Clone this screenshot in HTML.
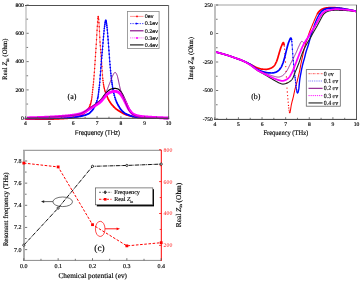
<!DOCTYPE html>
<html><head><meta charset="utf-8"><style>
html,body{margin:0;padding:0;background:#fff;}
body{width:361px;height:282px;overflow:hidden;position:relative;font-family:"Liberation Serif",serif;}
text{stroke:#000;stroke-width:0.15px;}
</style></head><body>
<svg width="361" height="282" viewBox="0 0 361 282" text-rendering="geometricPrecision" style="position:absolute;left:0;top:0;filter:brightness(1)">
<rect width="361" height="282" fill="#fff"/>
<path d="M25.5 118.9L25.7 118.91L25.9 118.91L26.1 118.92L26.3 118.92L26.5 118.93L26.7 118.93L26.9 118.94L27.1 118.95L27.3 118.95L27.5 118.96L27.7 118.96L27.9 118.97L28.1 118.97L28.3 118.97L28.5 118.98L28.7 118.98L28.9 118.99L29.1 118.99L29.3 119L29.5 119L29.7 119L29.9 119.01L30.1 119.01L30.3 119.01L30.5 119.02L30.7 119.02L30.9 119.02L31.1 119.03L31.3 119.03L31.5 119.03L31.7 119.04L31.9 119.04L32.1 119.04L32.3 119.04L32.5 119.05L32.7 119.05L32.9 119.05L33.1 119.05L33.3 119.06L33.5 119.06L33.7 119.06L33.9 119.06L34.1 119.07L34.3 119.07L34.5 119.07L34.7 119.07L34.9 119.07L35.1 119.07L35.3 119.08L35.5 119.08L35.7 119.08L35.9 119.08L36.1 119.08L36.3 119.08L36.5 119.08L36.7 119.08L36.9 119.09L37.1 119.09L37.3 119.09L37.5 119.09L37.7 119.09L37.9 119.09L38.1 119.09L38.3 119.09L38.5 119.09L38.7 119.09L38.9 119.09L39.1 119.09L39.3 119.1L39.5 119.1L39.7 119.1L39.9 119.1L40.1 119.1L40.3 119.1L40.5 119.1L40.7 119.1L40.9 119.1L41.1 119.1L41.3 119.1L41.5 119.1L41.7 119.1L41.9 119.1L42.1 119.1L42.3 119.1L42.5 119.1L42.7 119.1L42.9 119.1L43.1 119.1L43.3 119.1L43.5 119.1L43.7 119.1L43.9 119.1L44.1 119.1L44.3 119.1L44.5 119.1L44.7 119.1L44.9 119.1L45.1 119.1L45.3 119.1L45.5 119.1L45.7 119.1L45.9 119.1L46.1 119.1L46.3 119.1L46.5 119.09L46.7 119.09L46.9 119.09L47.1 119.09L47.3 119.09L47.5 119.09L47.7 119.08L47.9 119.08L48.1 119.08L48.3 119.07L48.5 119.07L48.7 119.07L48.9 119.06L49.1 119.06L49.3 119.06L49.5 119.05L49.7 119.05L49.9 119.04L50.1 119.04L50.3 119.04L50.5 119.03L50.7 119.03L50.9 119.02L51.1 119.02L51.3 119.01L51.5 119L51.7 119L51.9 118.99L52.1 118.99L52.3 118.98L52.5 118.97L52.7 118.97L52.9 118.96L53.1 118.95L53.3 118.95L53.5 118.94L53.7 118.93L53.9 118.93L54.1 118.92L54.3 118.91L54.5 118.9L54.7 118.9L54.9 118.89L55.1 118.88L55.3 118.87L55.5 118.86L55.7 118.86L55.9 118.85L56.1 118.84L56.3 118.83L56.5 118.82L56.7 118.81L56.9 118.8L57.1 118.79L57.3 118.78L57.5 118.78L57.7 118.77L57.9 118.76L58.1 118.75L58.3 118.74L58.5 118.73L58.7 118.72L58.9 118.71L59.1 118.7L59.3 118.69L59.5 118.68L59.7 118.67L59.9 118.66L60.1 118.64L60.3 118.63L60.5 118.62L60.7 118.61L60.9 118.6L61.1 118.59L61.3 118.58L61.5 118.57L61.7 118.56L61.9 118.55L62.1 118.53L62.3 118.52L62.5 118.51L62.7 118.5L62.9 118.49L63.1 118.48L63.3 118.46L63.5 118.45L63.7 118.44L63.9 118.43L64.1 118.42L64.3 118.4L64.5 118.39L64.7 118.38L64.9 118.37L65.1 118.36L65.3 118.34L65.5 118.33L65.7 118.32L65.9 118.31L66.1 118.29L66.3 118.28L66.5 118.27L66.7 118.25L66.9 118.24L67.1 118.22L67.3 118.21L67.5 118.19L67.7 118.18L67.9 118.16L68.1 118.14L68.3 118.12L68.5 118.11L68.7 118.09L68.9 118.07L69.1 118.05L69.3 118.03L69.5 118.01L69.7 117.98L69.9 117.96L70.1 117.94L70.3 117.92L70.5 117.89L70.7 117.87L70.9 117.84L71.1 117.82L71.3 117.79L71.5 117.77L71.7 117.74L71.9 117.71L72.1 117.68L72.3 117.65L72.5 117.62L72.7 117.59L72.9 117.56L73.1 117.53L73.3 117.5L73.5 117.47L73.7 117.43L73.9 117.4L74.1 117.36L74.3 117.33L74.5 117.29L74.7 117.26L74.9 117.22L75.1 117.18L75.3 117.14L75.5 117.1L75.7 117.05L75.9 117L76.1 116.95L76.3 116.89L76.5 116.84L76.7 116.78L76.9 116.72L77.1 116.65L77.3 116.59L77.5 116.52L77.7 116.45L77.9 116.37L78.1 116.3L78.3 116.22L78.5 116.14L78.7 116.06L78.9 115.98L79.1 115.89L79.3 115.81L79.5 115.72L79.7 115.63L79.9 115.54L80.1 115.45L80.3 115.35L80.5 115.26L80.7 115.16L80.9 115.06L81.1 114.96L81.3 114.86L81.5 114.76L81.7 114.66L81.9 114.55L82.1 114.45L82.3 114.34L82.5 114.22L82.7 114.1L82.9 113.98L83.1 113.85L83.3 113.71L83.5 113.57L83.7 113.43L83.9 113.28L84.1 113.13L84.3 112.97L84.5 112.81L84.7 112.65L84.9 112.48L85.1 112.31L85.3 112.13L85.5 111.96L85.7 111.78L85.9 111.59L86.1 111.41L86.3 111.22L86.5 111.02L86.7 110.83L86.9 110.62L87.1 110.41L87.3 110.19L87.5 109.96L87.7 109.72L87.9 109.46L88.1 109.2L88.3 108.91L88.5 108.62L88.7 108.3L88.9 107.96L89.1 107.58L89.3 107.16L89.5 106.71L89.7 106.23L89.9 105.72L90.1 105.17L90.3 104.6L90.5 104L90.7 103.36L90.9 102.66L91.1 101.88L91.3 101L91.5 100L91.7 98.77L91.9 97.26L92.1 95.56L92.3 93.73L92.5 91.85L92.7 90L92.9 88.17L93.1 86.3L93.3 84.37L93.5 82.36L93.7 80.25L93.9 78L94.1 75.57L94.3 72.96L94.5 70.19L94.7 67.33L94.9 64.4L95.1 61.46L95.3 58.54L95.5 55.58L95.7 52.57L95.9 49.51L96.1 46.4L96.3 43.23L96.5 40L96.7 36.53L96.9 32.9L97.1 29.5L97.3 26.53L97.5 23.41L97.7 20.39L97.9 17.94L98.1 16.5L98.3 16.45L98.5 17.58L98.7 19.58L98.9 22.16L99.1 25.06L99.3 28L99.5 31.65L99.7 36.06L99.9 40L100.1 43.13L100.3 45.98L100.5 48.63L100.7 51.18L100.9 53.71L101.1 56.28L101.3 58.75L101.5 61.18L101.7 63.69L101.9 66.41L102.1 69.52L102.3 72.72L102.5 75.66L102.7 78L102.9 79.81L103.1 81.44L103.3 82.91L103.5 84.23L103.7 85.41L103.9 86.49L104.1 87.48L104.3 88.39L104.5 89.23L104.7 90L104.9 90.71L105.1 91.38L105.3 92L105.5 92.58L105.7 93.12L105.9 93.63L106.1 94.11L106.3 94.58L106.5 95.04L106.7 95.5L106.9 95.97L107.1 96.44L107.3 96.91L107.5 97.37L107.7 97.83L107.9 98.29L108.1 98.73L108.3 99.15L108.5 99.56L108.7 99.95L108.9 100.32L109.1 100.67L109.3 101.01L109.5 101.34L109.7 101.66L109.9 101.96L110.1 102.27L110.3 102.56L110.5 102.84L110.7 103.12L110.9 103.39L111.1 103.66L111.3 103.92L111.5 104.17L111.7 104.42L111.9 104.66L112.1 104.9L112.3 105.13L112.5 105.37L112.7 105.59L112.9 105.82L113.1 106.04L113.3 106.25L113.5 106.47L113.7 106.68L113.9 106.88L114.1 107.08L114.3 107.28L114.5 107.48L114.7 107.67L114.9 107.85L115.1 108.03L115.3 108.21L115.5 108.39L115.7 108.55L115.9 108.72L116.1 108.88L116.3 109.04L116.5 109.19L116.7 109.34L116.9 109.49L117.1 109.63L117.3 109.77L117.5 109.91L117.7 110.05L117.9 110.18L118.1 110.32L118.3 110.45L118.5 110.57L118.7 110.7L118.9 110.82L119.1 110.95L119.3 111.07L119.5 111.19L119.7 111.31L119.9 111.42L120.1 111.54L120.3 111.66L120.5 111.78L120.7 111.89L120.9 112.01L121.1 112.13L121.3 112.25L121.5 112.37L121.7 112.49L121.9 112.6L122.1 112.72L122.3 112.84L122.5 112.95L122.7 113.07L122.9 113.18L123.1 113.3L123.3 113.41L123.5 113.52L123.7 113.62L123.9 113.73L124.1 113.83L124.3 113.94L124.5 114.04L124.7 114.13L124.9 114.23L125.1 114.32L125.3 114.41L125.5 114.5L125.7 114.58L125.9 114.66L126.1 114.73L126.3 114.81L126.5 114.88L126.7 114.94L126.9 115L127.1 115.06L127.3 115.12L127.5 115.17L127.7 115.23L127.9 115.29L128.1 115.34L128.3 115.4L128.5 115.45L128.7 115.51L128.9 115.56L129.1 115.62L129.3 115.67L129.5 115.72L129.7 115.78L129.9 115.83L130.1 115.88L130.3 115.93L130.5 115.98L130.7 116.03L130.9 116.08L131.1 116.13L131.3 116.18L131.5 116.22L131.7 116.27L131.9 116.32L132.1 116.36L132.3 116.41L132.5 116.45L132.7 116.49L132.9 116.54L133.1 116.58L133.3 116.62L133.5 116.66L133.7 116.7L133.9 116.74L134.1 116.78L134.3 116.81L134.5 116.85L134.7 116.89L134.9 116.92L135.1 116.95L135.3 116.99L135.5 117.02L135.7 117.05L135.9 117.08L136.1 117.11L136.3 117.14L136.5 117.17L136.7 117.2L136.9 117.22L137.1 117.25L137.3 117.27L137.5 117.3L137.7 117.32L137.9 117.34L138.1 117.36L138.3 117.38L138.5 117.4L138.7 117.41L138.9 117.43L139.1 117.45L139.3 117.46L139.5 117.47L139.7 117.48L139.9 117.5L140.1 117.5L140.3 117.51L140.5 117.52L140.7 117.53L140.9 117.54L141.1 117.55L141.3 117.56L141.5 117.57L141.7 117.58L141.9 117.59L142.1 117.6L142.3 117.61L142.5 117.62L142.7 117.62L142.9 117.63L143.1 117.64L143.3 117.65L143.5 117.66L143.7 117.67L143.9 117.68L144.1 117.68L144.3 117.69L144.5 117.7L144.7 117.71L144.9 117.72L145.1 117.72L145.3 117.73L145.5 117.74L145.7 117.75L145.9 117.76L146.1 117.76L146.3 117.77L146.5 117.78L146.7 117.79L146.9 117.79L147.1 117.8L147.3 117.81L147.5 117.82L147.7 117.82L147.9 117.83L148.1 117.84L148.3 117.84L148.5 117.85L148.7 117.86L148.9 117.86L149.1 117.87L149.3 117.88L149.5 117.88L149.7 117.89L149.9 117.9L150.1 117.9L150.3 117.91L150.5 117.92L150.7 117.92L150.9 117.93L151.1 117.93L151.3 117.94L151.5 117.95L151.7 117.95L151.9 117.96L152.1 117.96L152.3 117.97L152.5 117.97L152.7 117.98L152.9 117.99L153.1 117.99L153.3 118L153.5 118L153.7 118.01L153.9 118.01L154.1 118.02L154.3 118.02L154.5 118.03L154.7 118.03L154.9 118.04L155.1 118.04L155.3 118.05L155.5 118.05L155.7 118.05L155.9 118.06L156.1 118.06L156.3 118.07L156.5 118.07L156.7 118.08L156.9 118.08L157.1 118.08L157.3 118.09L157.5 118.09L157.7 118.1L157.9 118.1L158.1 118.1L158.3 118.11L158.5 118.11L158.7 118.11L158.9 118.12L159.1 118.12L159.3 118.12L159.5 118.13L159.7 118.13L159.9 118.13L160.1 118.14L160.3 118.14L160.5 118.14L160.7 118.15L160.9 118.15L161.1 118.15L161.3 118.15L161.5 118.16L161.7 118.16L161.9 118.16L162.1 118.16L162.3 118.16L162.5 118.17L162.7 118.17L162.9 118.17L163.1 118.17L163.3 118.18L163.5 118.18L163.7 118.18L163.9 118.18L164.1 118.18L164.3 118.18L164.5 118.19L164.7 118.19L164.9 118.19L165.1 118.19L165.3 118.19L165.5 118.19L165.7 118.19L165.9 118.19L166.1 118.19L166.3 118.2L166.5 118.2L166.7 118.2L166.9 118.2L167.1 118.2L167.3 118.2L167.5 118.2L167.7 118.2L167.9 118.2L168.1 118.2L168.3 118.2L168.5 118.2" fill="none" stroke="#ff6060" stroke-width="0.8"/>
<path d="M90.57 103.78h0M90.84 102.88h0M91.11 101.84h0M91.38 100.62h0M91.65 99.11h0M91.92 97.1h0M92.19 94.75h0M92.46 92.23h0M92.73 89.73h0M93 87.24h0M93.27 84.67h0M93.54 81.95h0M93.81 79.03h0M94.08 75.83h0M94.35 72.28h0M94.62 68.48h0M94.89 64.55h0M95.16 60.58h0M95.43 56.62h0M95.7 52.57h0M95.97 48.43h0M96.24 44.19h0M96.51 39.84h0M96.78 35.08h0M97.05 30.31h0M97.32 26.23h0M97.59 22.01h0M97.86 18.36h0M98.13 16.4h0M98.4 16.89h0M98.67 19.24h0M98.94 22.73h0M99.21 26.69h0M99.48 31.23h0M99.75 37.13h0M100.02 41.92h0M100.29 45.84h0M100.56 49.4h0M100.83 52.82h0M101.1 56.28h0M101.37 59.6h0M101.64 62.92h0M101.91 66.56h0M102.18 70.81h0M102.45 74.97h0M102.72 78.19h0M102.99 80.57h0M103.26 82.63h0M103.53 84.41h0M103.8 85.97h0M104.07 87.34h0M104.34 88.56h0M104.61 89.66h0M104.88 90.64h0M105.15 91.53h0M105.42 92.36h0M105.69 93.1h0M105.96 93.78h0" fill="none" stroke="#ff0000" stroke-width="1.5" stroke-linecap="round"/>
<path d="M25.5 118.9h0M26.1 118.92h0M26.7 118.93h0M27.3 118.95h0M27.9 118.97h0M28.5 118.98h0M29.1 118.99h0M29.7 119h0M30.3 119.01h0M30.9 119.02h0M31.5 119.03h0M32.1 119.04h0M32.7 119.05h0M33.3 119.06h0M33.9 119.06h0M34.5 119.07h0M35.1 119.07h0M35.7 119.08h0M36.3 119.08h0M36.9 119.09h0M37.5 119.09h0M38.1 119.09h0M38.7 119.09h0M39.3 119.1h0M39.9 119.1h0M40.5 119.1h0M41.1 119.1h0M41.7 119.1h0M42.3 119.1h0M42.9 119.1h0M43.5 119.1h0M44.1 119.1h0M44.7 119.1h0M45.3 119.1h0M45.9 119.1h0M46.5 119.09h0M47.1 119.09h0M47.7 119.08h0M48.3 119.07h0M48.9 119.06h0M49.5 119.05h0M50.1 119.04h0M50.7 119.03h0M51.3 119.01h0M51.9 118.99h0M52.5 118.97h0M53.1 118.95h0M53.7 118.93h0M54.3 118.91h0M54.9 118.89h0M55.5 118.86h0M56.1 118.84h0M56.7 118.81h0M57.3 118.78h0M57.9 118.76h0M58.5 118.73h0M59.1 118.7h0M59.7 118.67h0M60.3 118.63h0M60.9 118.6h0M61.5 118.57h0M62.1 118.53h0M62.7 118.5h0M63.3 118.46h0M63.9 118.43h0M64.5 118.39h0M65.1 118.36h0M65.7 118.32h0M66.3 118.28h0M66.9 118.24h0M67.5 118.19h0M68.1 118.14h0M68.7 118.09h0M69.3 118.03h0M69.9 117.96h0M70.5 117.89h0M71.1 117.82h0M71.7 117.74h0M72.3 117.65h0M72.9 117.56h0M73.5 117.47h0M74.1 117.36h0M74.7 117.26h0M75.3 117.14h0M75.9 117h0M76.5 116.84h0M77.1 116.65h0M77.7 116.45h0M78.3 116.22h0M78.9 115.98h0M79.5 115.72h0M80.1 115.45h0M80.7 115.16h0M81.3 114.86h0M81.9 114.55h0M82.5 114.22h0M83.1 113.85h0M83.7 113.43h0M84.3 112.97h0M84.9 112.48h0M85.5 111.96h0M86.1 111.41h0M86.7 110.83h0M87.3 110.19h0M87.9 109.46h0M88.5 108.62h0M89.1 107.58h0M89.7 106.23h0M90.3 104.6h0M106.5 95.04h0M107.1 96.44h0M107.7 97.83h0M108.3 99.15h0M108.9 100.32h0M109.5 101.34h0M110.1 102.27h0M110.7 103.12h0M111.3 103.92h0M111.9 104.66h0M112.5 105.37h0M113.1 106.04h0M113.7 106.68h0M114.3 107.28h0M114.9 107.85h0M115.5 108.39h0M116.1 108.88h0M116.7 109.34h0M117.3 109.77h0M117.9 110.18h0M118.5 110.57h0M119.1 110.95h0M119.7 111.31h0M120.3 111.66h0M120.9 112.01h0M121.5 112.37h0M122.1 112.72h0M122.7 113.07h0M123.3 113.41h0M123.9 113.73h0M124.5 114.04h0M125.1 114.32h0M125.7 114.58h0M126.3 114.81h0M126.9 115h0M127.5 115.17h0M128.1 115.34h0M128.7 115.51h0M129.3 115.67h0M129.9 115.83h0M130.5 115.98h0M131.1 116.13h0M131.7 116.27h0M132.3 116.41h0M132.9 116.54h0M133.5 116.66h0M134.1 116.78h0M134.7 116.89h0M135.3 116.99h0M135.9 117.08h0M136.5 117.17h0M137.1 117.25h0M137.7 117.32h0M138.3 117.38h0M138.9 117.43h0M139.5 117.47h0M140.1 117.5h0M140.7 117.53h0M141.3 117.56h0M141.9 117.59h0M142.5 117.62h0M143.1 117.64h0M143.7 117.67h0M144.3 117.69h0M144.9 117.72h0M145.5 117.74h0M146.1 117.76h0M146.7 117.79h0M147.3 117.81h0M147.9 117.83h0M148.5 117.85h0M149.1 117.87h0M149.7 117.89h0M150.3 117.91h0M150.9 117.93h0M151.5 117.95h0M152.1 117.96h0M152.7 117.98h0M153.3 118h0M153.9 118.01h0M154.5 118.03h0M155.1 118.04h0M155.7 118.05h0M156.3 118.07h0M156.9 118.08h0M157.5 118.09h0M158.1 118.1h0M158.7 118.11h0M159.3 118.12h0M159.9 118.13h0M160.5 118.14h0M161.1 118.15h0M161.7 118.16h0M162.3 118.16h0M162.9 118.17h0M163.5 118.18h0M164.1 118.18h0M164.7 118.19h0M165.3 118.19h0M165.9 118.19h0M166.5 118.2h0M167.1 118.2h0M167.7 118.2h0M168.3 118.2h0" fill="none" stroke="#ff0000" stroke-width="1.9" stroke-linecap="round"/>
<path d="M25.5 118.2L25.7 118.2L25.9 118.2L26.1 118.2L26.3 118.2L26.5 118.2L26.7 118.2L26.9 118.2L27.1 118.2L27.3 118.2L27.5 118.2L27.7 118.2L27.9 118.2L28.1 118.2L28.3 118.2L28.5 118.2L28.7 118.2L28.9 118.2L29.1 118.2L29.3 118.2L29.5 118.2L29.7 118.2L29.9 118.2L30.1 118.2L30.3 118.2L30.5 118.2L30.7 118.2L30.9 118.2L31.1 118.2L31.3 118.2L31.5 118.2L31.7 118.2L31.9 118.2L32.1 118.2L32.3 118.2L32.5 118.2L32.7 118.2L32.9 118.2L33.1 118.2L33.3 118.2L33.5 118.2L33.7 118.2L33.9 118.2L34.1 118.2L34.3 118.2L34.5 118.2L34.7 118.2L34.9 118.2L35.1 118.2L35.3 118.2L35.5 118.2L35.7 118.2L35.9 118.2L36.1 118.2L36.3 118.2L36.5 118.2L36.7 118.2L36.9 118.2L37.1 118.2L37.3 118.2L37.5 118.2L37.7 118.2L37.9 118.2L38.1 118.2L38.3 118.2L38.5 118.2L38.7 118.2L38.9 118.2L39.1 118.2L39.3 118.2L39.5 118.2L39.7 118.2L39.9 118.2L40.1 118.2L40.3 118.2L40.5 118.2L40.7 118.2L40.9 118.2L41.1 118.2L41.3 118.2L41.5 118.2L41.7 118.2L41.9 118.2L42.1 118.2L42.3 118.2L42.5 118.2L42.7 118.2L42.9 118.2L43.1 118.2L43.3 118.2L43.5 118.2L43.7 118.2L43.9 118.2L44.1 118.2L44.3 118.2L44.5 118.2L44.7 118.2L44.9 118.2L45.1 118.2L45.3 118.2L45.5 118.2L45.7 118.2L45.9 118.2L46.1 118.2L46.3 118.2L46.5 118.2L46.7 118.2L46.9 118.2L47.1 118.2L47.3 118.2L47.5 118.2L47.7 118.2L47.9 118.2L48.1 118.2L48.3 118.2L48.5 118.2L48.7 118.2L48.9 118.2L49.1 118.2L49.3 118.2L49.5 118.2L49.7 118.2L49.9 118.2L50.1 118.2L50.3 118.2L50.5 118.2L50.7 118.2L50.9 118.2L51.1 118.2L51.3 118.2L51.5 118.19L51.7 118.19L51.9 118.19L52.1 118.19L52.3 118.19L52.5 118.19L52.7 118.18L52.9 118.18L53.1 118.18L53.3 118.18L53.5 118.17L53.7 118.17L53.9 118.17L54.1 118.16L54.3 118.16L54.5 118.15L54.7 118.15L54.9 118.15L55.1 118.14L55.3 118.14L55.5 118.13L55.7 118.13L55.9 118.12L56.1 118.12L56.3 118.11L56.5 118.11L56.7 118.1L56.9 118.1L57.1 118.09L57.3 118.09L57.5 118.08L57.7 118.07L57.9 118.07L58.1 118.06L58.3 118.05L58.5 118.05L58.7 118.04L58.9 118.03L59.1 118.03L59.3 118.02L59.5 118.01L59.7 118.01L59.9 118L60.1 117.99L60.3 117.98L60.5 117.97L60.7 117.97L60.9 117.96L61.1 117.95L61.3 117.94L61.5 117.93L61.7 117.93L61.9 117.92L62.1 117.91L62.3 117.9L62.5 117.89L62.7 117.88L62.9 117.87L63.1 117.86L63.3 117.85L63.5 117.84L63.7 117.84L63.9 117.83L64.1 117.82L64.3 117.81L64.5 117.8L64.7 117.79L64.9 117.78L65.1 117.77L65.3 117.76L65.5 117.75L65.7 117.74L65.9 117.73L66.1 117.72L66.3 117.7L66.5 117.69L66.7 117.68L66.9 117.67L67.1 117.66L67.3 117.65L67.5 117.64L67.7 117.63L67.9 117.62L68.1 117.61L68.3 117.6L68.5 117.59L68.7 117.57L68.9 117.56L69.1 117.55L69.3 117.54L69.5 117.53L69.7 117.52L69.9 117.51L70.1 117.49L70.3 117.48L70.5 117.47L70.7 117.46L70.9 117.44L71.1 117.43L71.3 117.41L71.5 117.4L71.7 117.38L71.9 117.36L72.1 117.35L72.3 117.33L72.5 117.31L72.7 117.29L72.9 117.27L73.1 117.25L73.3 117.23L73.5 117.21L73.7 117.19L73.9 117.17L74.1 117.14L74.3 117.12L74.5 117.1L74.7 117.07L74.9 117.05L75.1 117.02L75.3 117L75.5 116.97L75.7 116.95L75.9 116.92L76.1 116.89L76.3 116.87L76.5 116.84L76.7 116.81L76.9 116.78L77.1 116.75L77.3 116.72L77.5 116.7L77.7 116.67L77.9 116.64L78.1 116.6L78.3 116.57L78.5 116.54L78.7 116.51L78.9 116.48L79.1 116.45L79.3 116.42L79.5 116.38L79.7 116.35L79.9 116.32L80.1 116.28L80.3 116.25L80.5 116.21L80.7 116.18L80.9 116.14L81.1 116.1L81.3 116.06L81.5 116.02L81.7 115.98L81.9 115.93L82.1 115.89L82.3 115.84L82.5 115.8L82.7 115.75L82.9 115.7L83.1 115.65L83.3 115.6L83.5 115.55L83.7 115.49L83.9 115.44L84.1 115.38L84.3 115.33L84.5 115.27L84.7 115.21L84.9 115.15L85.1 115.09L85.3 115.03L85.5 114.96L85.7 114.9L85.9 114.83L86.1 114.77L86.3 114.7L86.5 114.63L86.7 114.56L86.9 114.48L87.1 114.4L87.3 114.32L87.5 114.24L87.7 114.15L87.9 114.06L88.1 113.96L88.3 113.86L88.5 113.75L88.7 113.64L88.9 113.52L89.1 113.4L89.3 113.26L89.5 113.11L89.7 112.93L89.9 112.74L90.1 112.54L90.3 112.34L90.5 112.12L90.7 111.91L90.9 111.7L91.1 111.5L91.3 111.3L91.5 111.1L91.7 110.89L91.9 110.68L92.1 110.47L92.3 110.25L92.5 110.01L92.7 109.76L92.9 109.5L93.1 109.21L93.3 108.9L93.5 108.57L93.7 108.22L93.9 107.85L94.1 107.47L94.3 107.09L94.5 106.7L94.7 106.3L94.9 105.9L95.1 105.49L95.3 105.06L95.5 104.62L95.7 104.17L95.9 103.69L96.1 103.2L96.3 102.68L96.5 102.14L96.7 101.57L96.9 100.97L97.1 100.33L97.3 99.66L97.5 98.96L97.7 98.18L97.9 97.3L98.1 96.24L98.3 94.88L98.5 93.32L98.7 91.65L98.9 90L99.1 88.41L99.3 86.78L99.5 84.99L99.7 82.9L99.9 80.4L100.1 77.68L100.3 75L100.5 72.37L100.7 69.7L100.9 67.05L101.1 64.46L101.3 62L101.5 59.7L101.7 57.52L101.9 55.4L102.1 53.28L102.3 51.12L102.5 48.85L102.7 46.47L102.9 44.04L103.1 41.61L103.3 39.24L103.5 37L103.7 34.8L103.9 32.59L104.1 30.48L104.3 28.59L104.5 27L104.7 25.57L104.9 24.13L105.1 22.78L105.3 21.62L105.5 20.75L105.7 20.27L105.9 20.28L106.1 20.83L106.3 21.83L106.5 23.15L106.7 24.65L106.9 26.23L107.1 27.83L107.3 29.81L107.5 32.11L107.7 34.55L107.9 37L108.1 39.46L108.3 42.03L108.5 44.68L108.7 47.35L108.9 50L109.1 52.69L109.3 55.44L109.5 58.16L109.7 60.77L109.9 63.2L110.1 65.54L110.3 67.82L110.5 70.01L110.7 72.1L110.9 74.07L111.1 75.9L111.3 77.63L111.5 79.27L111.7 80.82L111.9 82.29L112.1 83.7L112.3 85.07L112.5 86.41L112.7 87.68L112.9 88.88L113.1 90L113.3 91L113.5 91.93L113.7 92.81L113.9 93.66L114.1 94.47L114.3 95.24L114.5 95.98L114.7 96.69L114.9 97.37L115.1 98.01L115.3 98.63L115.5 99.22L115.7 99.78L115.9 100.31L116.1 100.83L116.3 101.32L116.5 101.79L116.7 102.25L116.9 102.69L117.1 103.11L117.3 103.52L117.5 103.92L117.7 104.31L117.9 104.69L118.1 105.06L118.3 105.43L118.5 105.79L118.7 106.13L118.9 106.47L119.1 106.81L119.3 107.13L119.5 107.45L119.7 107.75L119.9 108.05L120.1 108.34L120.3 108.63L120.5 108.9L120.7 109.17L120.9 109.44L121.1 109.7L121.3 109.95L121.5 110.21L121.7 110.45L121.9 110.69L122.1 110.91L122.3 111.13L122.5 111.34L122.7 111.53L122.9 111.71L123.1 111.88L123.3 112.05L123.5 112.21L123.7 112.36L123.9 112.51L124.1 112.66L124.3 112.8L124.5 112.94L124.7 113.08L124.9 113.21L125.1 113.33L125.3 113.45L125.5 113.57L125.7 113.69L125.9 113.8L126.1 113.91L126.3 114.01L126.5 114.11L126.7 114.21L126.9 114.3L127.1 114.39L127.3 114.48L127.5 114.57L127.7 114.66L127.9 114.74L128.1 114.83L128.3 114.91L128.5 114.99L128.7 115.07L128.9 115.15L129.1 115.23L129.3 115.31L129.5 115.38L129.7 115.45L129.9 115.53L130.1 115.6L130.3 115.66L130.5 115.73L130.7 115.8L130.9 115.86L131.1 115.92L131.3 115.98L131.5 116.04L131.7 116.09L131.9 116.14L132.1 116.19L132.3 116.24L132.5 116.29L132.7 116.34L132.9 116.38L133.1 116.42L133.3 116.46L133.5 116.5L133.7 116.54L133.9 116.58L134.1 116.62L134.3 116.66L134.5 116.69L134.7 116.73L134.9 116.77L135.1 116.8L135.3 116.84L135.5 116.87L135.7 116.9L135.9 116.94L136.1 116.97L136.3 117L136.5 117.03L136.7 117.06L136.9 117.09L137.1 117.12L137.3 117.14L137.5 117.17L137.7 117.19L137.9 117.22L138.1 117.24L138.3 117.26L138.5 117.28L138.7 117.3L138.9 117.32L139.1 117.34L139.3 117.35L139.5 117.37L139.7 117.38L139.9 117.39L140.1 117.41L140.3 117.42L140.5 117.43L140.7 117.44L140.9 117.45L141.1 117.46L141.3 117.47L141.5 117.48L141.7 117.49L141.9 117.5L142.1 117.51L142.3 117.52L142.5 117.53L142.7 117.54L142.9 117.55L143.1 117.56L143.3 117.57L143.5 117.58L143.7 117.59L143.9 117.6L144.1 117.61L144.3 117.62L144.5 117.63L144.7 117.64L144.9 117.64L145.1 117.65L145.3 117.66L145.5 117.67L145.7 117.68L145.9 117.69L146.1 117.7L146.3 117.71L146.5 117.72L146.7 117.72L146.9 117.73L147.1 117.74L147.3 117.75L147.5 117.76L147.7 117.77L147.9 117.77L148.1 117.78L148.3 117.79L148.5 117.8L148.7 117.81L148.9 117.81L149.1 117.82L149.3 117.83L149.5 117.84L149.7 117.84L149.9 117.85L150.1 117.86L150.3 117.86L150.5 117.87L150.7 117.88L150.9 117.89L151.1 117.89L151.3 117.9L151.5 117.91L151.7 117.91L151.9 117.92L152.1 117.93L152.3 117.93L152.5 117.94L152.7 117.95L152.9 117.95L153.1 117.96L153.3 117.96L153.5 117.97L153.7 117.98L153.9 117.98L154.1 117.99L154.3 117.99L154.5 118L154.7 118L154.9 118.01L155.1 118.02L155.3 118.02L155.5 118.03L155.7 118.03L155.9 118.04L156.1 118.04L156.3 118.05L156.5 118.05L156.7 118.06L156.9 118.06L157.1 118.07L157.3 118.07L157.5 118.07L157.7 118.08L157.9 118.08L158.1 118.09L158.3 118.09L158.5 118.1L158.7 118.1L158.9 118.1L159.1 118.11L159.3 118.11L159.5 118.12L159.7 118.12L159.9 118.12L160.1 118.13L160.3 118.13L160.5 118.13L160.7 118.14L160.9 118.14L161.1 118.14L161.3 118.15L161.5 118.15L161.7 118.15L161.9 118.15L162.1 118.16L162.3 118.16L162.5 118.16L162.7 118.16L162.9 118.17L163.1 118.17L163.3 118.17L163.5 118.17L163.7 118.18L163.9 118.18L164.1 118.18L164.3 118.18L164.5 118.18L164.7 118.18L164.9 118.19L165.1 118.19L165.3 118.19L165.5 118.19L165.7 118.19L165.9 118.19L166.1 118.19L166.3 118.19L166.5 118.2L166.7 118.2L166.9 118.2L167.1 118.2L167.3 118.2L167.5 118.2L167.7 118.2L167.9 118.2L168.1 118.2L168.3 118.2L168.5 118.2" fill="none" stroke="#0000ff" stroke-width="0.8"/>
<path d="M97.59 98.62h0M97.86 97.49h0M98.13 96.05h0M98.4 94.12h0M98.67 91.9h0M98.94 89.68h0M99.21 87.52h0M99.48 85.18h0M99.75 82.31h0M100.02 78.78h0M100.29 75.13h0M100.56 71.57h0M100.83 67.97h0M101.1 64.46h0M101.37 61.18h0M101.64 58.17h0M101.91 55.29h0M102.18 52.43h0M102.45 49.43h0M102.72 46.23h0M102.99 42.94h0M103.26 39.71h0M103.53 36.67h0M103.8 33.69h0M104.07 30.79h0M104.34 28.24h0M104.61 26.22h0M104.88 24.27h0M105.15 22.47h0M105.42 21.06h0M105.69 20.28h0M105.96 20.39h0M106.23 21.44h0M106.5 23.15h0M106.77 25.2h0M107.04 27.32h0M107.31 29.92h0M107.58 33.08h0M107.85 36.4h0M108.12 39.72h0M108.39 43.22h0M108.66 46.81h0M108.93 50.4h0M109.2 54.07h0M109.47 57.76h0M109.74 61.27h0M110.01 64.49h0M110.28 67.6h0M110.55 70.54h0M110.82 73.29h0M111.09 75.81h0M111.36 78.13h0M111.63 80.29h0M111.9 82.29h0M112.17 84.18h0M112.44 86.01h0M112.71 87.74h0M112.98 89.34h0M113.25 90.76h0M113.52 92.02h0M113.79 93.2h0" fill="none" stroke="#0000ff" stroke-width="1.7" stroke-linecap="round"/>
<path d="M25.5 118.2h0M26.1 118.2h0M26.7 118.2h0M27.3 118.2h0M27.9 118.2h0M28.5 118.2h0M29.1 118.2h0M29.7 118.2h0M30.3 118.2h0M30.9 118.2h0M31.5 118.2h0M32.1 118.2h0M32.7 118.2h0M33.3 118.2h0M33.9 118.2h0M34.5 118.2h0M35.1 118.2h0M35.7 118.2h0M36.3 118.2h0M36.9 118.2h0M37.5 118.2h0M38.1 118.2h0M38.7 118.2h0M39.3 118.2h0M39.9 118.2h0M40.5 118.2h0M41.1 118.2h0M41.7 118.2h0M42.3 118.2h0M42.9 118.2h0M43.5 118.2h0M44.1 118.2h0M44.7 118.2h0M45.3 118.2h0M45.9 118.2h0M46.5 118.2h0M47.1 118.2h0M47.7 118.2h0M48.3 118.2h0M48.9 118.2h0M49.5 118.2h0M50.1 118.2h0M50.7 118.2h0M51.3 118.2h0M51.9 118.19h0M52.5 118.19h0M53.1 118.18h0M53.7 118.17h0M54.3 118.16h0M54.9 118.15h0M55.5 118.13h0M56.1 118.12h0M56.7 118.1h0M57.3 118.09h0M57.9 118.07h0M58.5 118.05h0M59.1 118.03h0M59.7 118.01h0M60.3 117.98h0M60.9 117.96h0M61.5 117.93h0M62.1 117.91h0M62.7 117.88h0M63.3 117.85h0M63.9 117.83h0M64.5 117.8h0M65.1 117.77h0M65.7 117.74h0M66.3 117.7h0M66.9 117.67h0M67.5 117.64h0M68.1 117.61h0M68.7 117.57h0M69.3 117.54h0M69.9 117.51h0M70.5 117.47h0M71.1 117.43h0M71.7 117.38h0M72.3 117.33h0M72.9 117.27h0M73.5 117.21h0M74.1 117.14h0M74.7 117.07h0M75.3 117h0M75.9 116.92h0M76.5 116.84h0M77.1 116.75h0M77.7 116.67h0M78.3 116.57h0M78.9 116.48h0M79.5 116.38h0M80.1 116.28h0M80.7 116.18h0M81.3 116.06h0M81.9 115.93h0M82.5 115.8h0M83.1 115.65h0M83.7 115.49h0M84.3 115.33h0M84.9 115.15h0M85.5 114.96h0M86.1 114.77h0M86.7 114.56h0M87.3 114.32h0M87.9 114.06h0M88.5 113.75h0M89.1 113.4h0M89.7 112.93h0M90.3 112.34h0M90.9 111.7h0M91.5 111.1h0M92.1 110.47h0M92.7 109.76h0M93.3 108.9h0M93.9 107.85h0M94.5 106.7h0M95.1 105.49h0M95.7 104.17h0M96.3 102.68h0M96.9 100.97h0M114.3 95.24h0M114.9 97.37h0M115.5 99.22h0M116.1 100.83h0M116.7 102.25h0M117.3 103.52h0M117.9 104.69h0M118.5 105.79h0M119.1 106.81h0M119.7 107.75h0M120.3 108.63h0M120.9 109.44h0M121.5 110.21h0M122.1 110.91h0M122.7 111.53h0M123.3 112.05h0M123.9 112.51h0M124.5 112.94h0M125.1 113.33h0M125.7 113.69h0M126.3 114.01h0M126.9 114.3h0M127.5 114.57h0M128.1 114.83h0M128.7 115.07h0M129.3 115.31h0M129.9 115.53h0M130.5 115.73h0M131.1 115.92h0M131.7 116.09h0M132.3 116.24h0M132.9 116.38h0M133.5 116.5h0M134.1 116.62h0M134.7 116.73h0M135.3 116.84h0M135.9 116.94h0M136.5 117.03h0M137.1 117.12h0M137.7 117.19h0M138.3 117.26h0M138.9 117.32h0M139.5 117.37h0M140.1 117.41h0M140.7 117.44h0M141.3 117.47h0M141.9 117.5h0M142.5 117.53h0M143.1 117.56h0M143.7 117.59h0M144.3 117.62h0M144.9 117.64h0M145.5 117.67h0M146.1 117.7h0M146.7 117.72h0M147.3 117.75h0M147.9 117.77h0M148.5 117.8h0M149.1 117.82h0M149.7 117.84h0M150.3 117.86h0M150.9 117.89h0M151.5 117.91h0M152.1 117.93h0M152.7 117.95h0M153.3 117.96h0M153.9 117.98h0M154.5 118h0M155.1 118.02h0M155.7 118.03h0M156.3 118.05h0M156.9 118.06h0M157.5 118.07h0M158.1 118.09h0M158.7 118.1h0M159.3 118.11h0M159.9 118.12h0M160.5 118.13h0M161.1 118.14h0M161.7 118.15h0M162.3 118.16h0M162.9 118.17h0M163.5 118.17h0M164.1 118.18h0M164.7 118.18h0M165.3 118.19h0M165.9 118.19h0M166.5 118.2h0M167.1 118.2h0M167.7 118.2h0M168.3 118.2h0" fill="none" stroke="#0000ff" stroke-width="1.9" stroke-linecap="round"/>
<path d="M25.5 118.2L25.7 118.2L25.9 118.19L26.1 118.19L26.3 118.18L26.5 118.18L26.7 118.17L26.9 118.17L27.1 118.16L27.3 118.16L27.5 118.15L27.7 118.15L27.9 118.14L28.1 118.14L28.3 118.13L28.5 118.13L28.7 118.12L28.9 118.12L29.1 118.11L29.3 118.11L29.5 118.1L29.7 118.1L29.9 118.09L30.1 118.08L30.3 118.08L30.5 118.07L30.7 118.07L30.9 118.06L31.1 118.05L31.3 118.05L31.5 118.04L31.7 118.03L31.9 118.03L32.1 118.02L32.3 118.01L32.5 118.01L32.7 118L32.9 118L33.1 117.99L33.3 117.98L33.5 117.97L33.7 117.97L33.9 117.96L34.1 117.95L34.3 117.95L34.5 117.94L34.7 117.93L34.9 117.92L35.1 117.92L35.3 117.91L35.5 117.9L35.7 117.9L35.9 117.89L36.1 117.88L36.3 117.87L36.5 117.86L36.7 117.86L36.9 117.85L37.1 117.84L37.3 117.83L37.5 117.83L37.7 117.82L37.9 117.81L38.1 117.8L38.3 117.79L38.5 117.79L38.7 117.78L38.9 117.77L39.1 117.76L39.3 117.75L39.5 117.74L39.7 117.74L39.9 117.73L40.1 117.72L40.3 117.71L40.5 117.7L40.7 117.69L40.9 117.68L41.1 117.68L41.3 117.67L41.5 117.66L41.7 117.65L41.9 117.64L42.1 117.63L42.3 117.62L42.5 117.61L42.7 117.61L42.9 117.6L43.1 117.59L43.3 117.58L43.5 117.57L43.7 117.56L43.9 117.55L44.1 117.54L44.3 117.53L44.5 117.52L44.7 117.51L44.9 117.5L45.1 117.5L45.3 117.49L45.5 117.48L45.7 117.47L45.9 117.46L46.1 117.45L46.3 117.44L46.5 117.43L46.7 117.42L46.9 117.41L47.1 117.4L47.3 117.39L47.5 117.38L47.7 117.37L47.9 117.36L48.1 117.34L48.3 117.33L48.5 117.32L48.7 117.31L48.9 117.3L49.1 117.29L49.3 117.28L49.5 117.27L49.7 117.26L49.9 117.25L50.1 117.23L50.3 117.22L50.5 117.21L50.7 117.2L50.9 117.19L51.1 117.17L51.3 117.16L51.5 117.15L51.7 117.14L51.9 117.13L52.1 117.11L52.3 117.1L52.5 117.09L52.7 117.08L52.9 117.06L53.1 117.05L53.3 117.04L53.5 117.03L53.7 117.01L53.9 117L54.1 116.99L54.3 116.97L54.5 116.96L54.7 116.95L54.9 116.93L55.1 116.92L55.3 116.91L55.5 116.89L55.7 116.88L55.9 116.87L56.1 116.85L56.3 116.84L56.5 116.83L56.7 116.81L56.9 116.8L57.1 116.78L57.3 116.77L57.5 116.75L57.7 116.74L57.9 116.73L58.1 116.71L58.3 116.7L58.5 116.68L58.7 116.67L58.9 116.65L59.1 116.64L59.3 116.62L59.5 116.61L59.7 116.59L59.9 116.58L60.1 116.56L60.3 116.55L60.5 116.53L60.7 116.52L60.9 116.5L61.1 116.49L61.3 116.47L61.5 116.46L61.7 116.44L61.9 116.43L62.1 116.41L62.3 116.4L62.5 116.38L62.7 116.37L62.9 116.35L63.1 116.33L63.3 116.32L63.5 116.3L63.7 116.29L63.9 116.27L64.1 116.25L64.3 116.24L64.5 116.22L64.7 116.21L64.9 116.19L65.1 116.17L65.3 116.16L65.5 116.14L65.7 116.12L65.9 116.11L66.1 116.09L66.3 116.08L66.5 116.06L66.7 116.04L66.9 116.03L67.1 116.01L67.3 115.99L67.5 115.98L67.7 115.96L67.9 115.95L68.1 115.93L68.3 115.91L68.5 115.9L68.7 115.88L68.9 115.86L69.1 115.84L69.3 115.83L69.5 115.81L69.7 115.79L69.9 115.78L70.1 115.76L70.3 115.74L70.5 115.72L70.7 115.7L70.9 115.68L71.1 115.66L71.3 115.64L71.5 115.62L71.7 115.6L71.9 115.58L72.1 115.56L72.3 115.54L72.5 115.52L72.7 115.49L72.9 115.47L73.1 115.45L73.3 115.42L73.5 115.4L73.7 115.38L73.9 115.35L74.1 115.32L74.3 115.3L74.5 115.27L74.7 115.24L74.9 115.21L75.1 115.19L75.3 115.16L75.5 115.12L75.7 115.09L75.9 115.06L76.1 115.02L76.3 114.99L76.5 114.95L76.7 114.91L76.9 114.87L77.1 114.83L77.3 114.79L77.5 114.74L77.7 114.7L77.9 114.65L78.1 114.6L78.3 114.55L78.5 114.5L78.7 114.45L78.9 114.39L79.1 114.34L79.3 114.28L79.5 114.22L79.7 114.16L79.9 114.1L80.1 114.03L80.3 113.97L80.5 113.89L80.7 113.82L80.9 113.73L81.1 113.65L81.3 113.55L81.5 113.46L81.7 113.35L81.9 113.25L82.1 113.14L82.3 113.03L82.5 112.91L82.7 112.8L82.9 112.68L83.1 112.56L83.3 112.43L83.5 112.31L83.7 112.19L83.9 112.07L84.1 111.94L84.3 111.82L84.5 111.7L84.7 111.58L84.9 111.45L85.1 111.32L85.3 111.19L85.5 111.06L85.7 110.92L85.9 110.78L86.1 110.64L86.3 110.5L86.5 110.36L86.7 110.22L86.9 110.07L87.1 109.93L87.3 109.79L87.5 109.64L87.7 109.5L87.9 109.36L88.1 109.22L88.3 109.08L88.5 108.94L88.7 108.8L88.9 108.66L89.1 108.53L89.3 108.4L89.5 108.27L89.7 108.13L89.9 108L90.1 107.87L90.3 107.74L90.5 107.62L90.7 107.49L90.9 107.36L91.1 107.23L91.3 107.1L91.5 106.97L91.7 106.85L91.9 106.72L92.1 106.59L92.3 106.46L92.5 106.33L92.7 106.2L92.9 106.06L93.1 105.93L93.3 105.8L93.5 105.66L93.7 105.53L93.9 105.39L94.1 105.25L94.3 105.11L94.5 104.96L94.7 104.82L94.9 104.67L95.1 104.53L95.3 104.38L95.5 104.23L95.7 104.08L95.9 103.94L96.1 103.79L96.3 103.64L96.5 103.49L96.7 103.34L96.9 103.19L97.1 103.04L97.3 102.89L97.5 102.74L97.7 102.58L97.9 102.42L98.1 102.26L98.3 102.1L98.5 101.94L98.7 101.77L98.9 101.6L99.1 101.43L99.3 101.25L99.5 101.07L99.7 100.89L99.9 100.7L100.1 100.51L100.3 100.32L100.5 100.12L100.7 99.91L100.9 99.71L101.1 99.49L101.3 99.26L101.5 99.01L101.7 98.76L101.9 98.48L102.1 98.2L102.3 97.92L102.5 97.63L102.7 97.33L102.9 97.04L103.1 96.74L103.3 96.45L103.5 96.17L103.7 95.89L103.9 95.63L104.1 95.37L104.3 95.12L104.5 94.86L104.7 94.61L104.9 94.35L105.1 94.1L105.3 93.86L105.5 93.61L105.7 93.38L105.9 93.14L106.1 92.92L106.3 92.7L106.5 92.5L106.7 92.3L106.9 92.11L107.1 91.91L107.3 91.72L107.5 91.52L107.7 91.33L107.9 91.14L108.1 90.95L108.3 90.77L108.5 90.59L108.7 90.42L108.9 90.25L109.1 90.1L109.3 89.95L109.5 89.81L109.7 89.68L109.9 89.57L110.1 89.46L110.3 89.37L110.5 89.3L110.7 89.23L110.9 89.17L111.1 89.1L111.3 89.04L111.5 88.98L111.7 88.92L111.9 88.86L112.1 88.81L112.3 88.76L112.5 88.71L112.7 88.66L112.9 88.61L113.1 88.57L113.3 88.54L113.5 88.51L113.7 88.48L113.9 88.45L114.1 88.43L114.3 88.42L114.5 88.41L114.7 88.4L114.9 88.4L115.1 88.41L115.3 88.42L115.5 88.44L115.7 88.46L115.9 88.49L116.1 88.52L116.3 88.55L116.5 88.59L116.7 88.64L116.9 88.69L117.1 88.74L117.3 88.79L117.5 88.85L117.7 88.91L117.9 88.97L118.1 89.04L118.3 89.13L118.5 89.24L118.7 89.37L118.9 89.53L119.1 89.7L119.3 89.88L119.5 90.08L119.7 90.28L119.9 90.49L120.1 90.7L120.3 90.91L120.5 91.13L120.7 91.38L120.9 91.64L121.1 91.91L121.3 92.2L121.5 92.5L121.7 92.82L121.9 93.14L122.1 93.47L122.3 93.81L122.5 94.15L122.7 94.5L122.9 94.87L123.1 95.25L123.3 95.66L123.5 96.09L123.7 96.52L123.9 96.97L124.1 97.42L124.3 97.88L124.5 98.33L124.7 98.78L124.9 99.22L125.1 99.66L125.3 100.1L125.5 100.55L125.7 101L125.9 101.45L126.1 101.9L126.3 102.35L126.5 102.81L126.7 103.27L126.9 103.73L127.1 104.21L127.3 104.71L127.5 105.21L127.7 105.71L127.9 106.2L128.1 106.69L128.3 107.15L128.5 107.59L128.7 108L128.9 108.39L129.1 108.77L129.3 109.14L129.5 109.5L129.7 109.86L129.9 110.2L130.1 110.52L130.3 110.84L130.5 111.13L130.7 111.41L130.9 111.68L131.1 111.92L131.3 112.16L131.5 112.39L131.7 112.62L131.9 112.84L132.1 113.05L132.3 113.25L132.5 113.44L132.7 113.62L132.9 113.79L133.1 113.94L133.3 114.08L133.5 114.2L133.7 114.31L133.9 114.42L134.1 114.53L134.3 114.64L134.5 114.74L134.7 114.84L134.9 114.94L135.1 115.04L135.3 115.13L135.5 115.22L135.7 115.31L135.9 115.39L136.1 115.48L136.3 115.56L136.5 115.64L136.7 115.71L136.9 115.79L137.1 115.86L137.3 115.92L137.5 115.99L137.7 116.05L137.9 116.11L138.1 116.17L138.3 116.23L138.5 116.28L138.7 116.33L138.9 116.38L139.1 116.43L139.3 116.47L139.5 116.51L139.7 116.55L139.9 116.58L140.1 116.62L140.3 116.65L140.5 116.68L140.7 116.71L140.9 116.74L141.1 116.77L141.3 116.8L141.5 116.83L141.7 116.86L141.9 116.89L142.1 116.91L142.3 116.94L142.5 116.97L142.7 116.99L142.9 117.02L143.1 117.04L143.3 117.07L143.5 117.09L143.7 117.11L143.9 117.13L144.1 117.16L144.3 117.18L144.5 117.2L144.7 117.22L144.9 117.24L145.1 117.26L145.3 117.28L145.5 117.3L145.7 117.31L145.9 117.33L146.1 117.35L146.3 117.37L146.5 117.38L146.7 117.4L146.9 117.41L147.1 117.43L147.3 117.44L147.5 117.46L147.7 117.47L147.9 117.48L148.1 117.5L148.3 117.51L148.5 117.52L148.7 117.53L148.9 117.54L149.1 117.56L149.3 117.57L149.5 117.58L149.7 117.59L149.9 117.6L150.1 117.6L150.3 117.61L150.5 117.62L150.7 117.63L150.9 117.64L151.1 117.65L151.3 117.66L151.5 117.67L151.7 117.67L151.9 117.68L152.1 117.69L152.3 117.7L152.5 117.71L152.7 117.72L152.9 117.73L153.1 117.73L153.3 117.74L153.5 117.75L153.7 117.76L153.9 117.77L154.1 117.77L154.3 117.78L154.5 117.79L154.7 117.8L154.9 117.81L155.1 117.81L155.3 117.82L155.5 117.83L155.7 117.84L155.9 117.84L156.1 117.85L156.3 117.86L156.5 117.86L156.7 117.87L156.9 117.88L157.1 117.88L157.3 117.89L157.5 117.9L157.7 117.91L157.9 117.91L158.1 117.92L158.3 117.92L158.5 117.93L158.7 117.94L158.9 117.94L159.1 117.95L159.3 117.95L159.5 117.96L159.7 117.97L159.9 117.97L160.1 117.98L160.3 117.98L160.5 117.99L160.7 117.99L160.9 118L161.1 118L161.3 118.01L161.5 118.01L161.7 118.02L161.9 118.02L162.1 118.03L162.3 118.03L162.5 118.03L162.7 118.04L162.9 118.04L163.1 118.05L163.3 118.05L163.5 118.05L163.7 118.06L163.9 118.06L164.1 118.06L164.3 118.07L164.5 118.07L164.7 118.07L164.9 118.08L165.1 118.08L165.3 118.08L165.5 118.08L165.7 118.08L165.9 118.09L166.1 118.09L166.3 118.09L166.5 118.09L166.7 118.09L166.9 118.09L167.1 118.1L167.3 118.1L167.5 118.1L167.7 118.1L167.9 118.1L168.1 118.1L168.3 118.1L168.5 118.1" fill="none" stroke="#000000" stroke-width="1.2"/>
<path d="M25.5 117.9L25.7 117.9L25.9 117.89L26.1 117.89L26.3 117.89L26.5 117.88L26.7 117.88L26.9 117.88L27.1 117.87L27.3 117.87L27.5 117.86L27.7 117.86L27.9 117.86L28.1 117.85L28.3 117.85L28.5 117.84L28.7 117.84L28.9 117.84L29.1 117.83L29.3 117.83L29.5 117.82L29.7 117.82L29.9 117.81L30.1 117.81L30.3 117.8L30.5 117.8L30.7 117.79L30.9 117.79L31.1 117.78L31.3 117.78L31.5 117.77L31.7 117.77L31.9 117.76L32.1 117.76L32.3 117.75L32.5 117.74L32.7 117.74L32.9 117.73L33.1 117.73L33.3 117.72L33.5 117.72L33.7 117.71L33.9 117.7L34.1 117.7L34.3 117.69L34.5 117.68L34.7 117.68L34.9 117.67L35.1 117.67L35.3 117.66L35.5 117.65L35.7 117.65L35.9 117.64L36.1 117.63L36.3 117.63L36.5 117.62L36.7 117.61L36.9 117.61L37.1 117.6L37.3 117.59L37.5 117.59L37.7 117.58L37.9 117.57L38.1 117.57L38.3 117.56L38.5 117.55L38.7 117.54L38.9 117.54L39.1 117.53L39.3 117.52L39.5 117.51L39.7 117.51L39.9 117.5L40.1 117.49L40.3 117.49L40.5 117.48L40.7 117.47L40.9 117.46L41.1 117.45L41.3 117.45L41.5 117.44L41.7 117.43L41.9 117.42L42.1 117.42L42.3 117.41L42.5 117.4L42.7 117.39L42.9 117.38L43.1 117.38L43.3 117.37L43.5 117.36L43.7 117.35L43.9 117.34L44.1 117.34L44.3 117.33L44.5 117.32L44.7 117.31L44.9 117.3L45.1 117.3L45.3 117.29L45.5 117.28L45.7 117.27L45.9 117.26L46.1 117.25L46.3 117.25L46.5 117.24L46.7 117.23L46.9 117.22L47.1 117.21L47.3 117.2L47.5 117.19L47.7 117.18L47.9 117.17L48.1 117.16L48.3 117.16L48.5 117.15L48.7 117.14L48.9 117.13L49.1 117.12L49.3 117.11L49.5 117.1L49.7 117.09L49.9 117.08L50.1 117.07L50.3 117.06L50.5 117.05L50.7 117.04L50.9 117.03L51.1 117.02L51.3 117.01L51.5 117L51.7 116.99L51.9 116.97L52.1 116.96L52.3 116.95L52.5 116.94L52.7 116.93L52.9 116.92L53.1 116.91L53.3 116.9L53.5 116.89L53.7 116.87L53.9 116.86L54.1 116.85L54.3 116.84L54.5 116.83L54.7 116.82L54.9 116.8L55.1 116.79L55.3 116.78L55.5 116.77L55.7 116.76L55.9 116.74L56.1 116.73L56.3 116.72L56.5 116.71L56.7 116.69L56.9 116.68L57.1 116.67L57.3 116.65L57.5 116.64L57.7 116.63L57.9 116.62L58.1 116.6L58.3 116.59L58.5 116.57L58.7 116.56L58.9 116.55L59.1 116.53L59.3 116.52L59.5 116.51L59.7 116.49L59.9 116.48L60.1 116.46L60.3 116.45L60.5 116.43L60.7 116.42L60.9 116.41L61.1 116.39L61.3 116.38L61.5 116.36L61.7 116.35L61.9 116.33L62.1 116.32L62.3 116.3L62.5 116.29L62.7 116.27L62.9 116.25L63.1 116.24L63.3 116.22L63.5 116.21L63.7 116.19L63.9 116.17L64.1 116.16L64.3 116.14L64.5 116.13L64.7 116.11L64.9 116.09L65.1 116.08L65.3 116.06L65.5 116.04L65.7 116.03L65.9 116.01L66.1 115.99L66.3 115.97L66.5 115.96L66.7 115.94L66.9 115.92L67.1 115.9L67.3 115.88L67.5 115.86L67.7 115.84L67.9 115.82L68.1 115.8L68.3 115.78L68.5 115.76L68.7 115.74L68.9 115.72L69.1 115.69L69.3 115.67L69.5 115.65L69.7 115.63L69.9 115.6L70.1 115.58L70.3 115.56L70.5 115.53L70.7 115.51L70.9 115.48L71.1 115.46L71.3 115.43L71.5 115.41L71.7 115.38L71.9 115.35L72.1 115.33L72.3 115.3L72.5 115.27L72.7 115.24L72.9 115.22L73.1 115.19L73.3 115.16L73.5 115.13L73.7 115.1L73.9 115.07L74.1 115.04L74.3 115.01L74.5 114.98L74.7 114.95L74.9 114.92L75.1 114.88L75.3 114.85L75.5 114.82L75.7 114.79L75.9 114.75L76.1 114.72L76.3 114.68L76.5 114.65L76.7 114.61L76.9 114.57L77.1 114.53L77.3 114.49L77.5 114.45L77.7 114.41L77.9 114.37L78.1 114.33L78.3 114.28L78.5 114.24L78.7 114.19L78.9 114.14L79.1 114.09L79.3 114.04L79.5 113.99L79.7 113.94L79.9 113.88L80.1 113.83L80.3 113.77L80.5 113.71L80.7 113.65L80.9 113.58L81.1 113.51L81.3 113.44L81.5 113.37L81.7 113.29L81.9 113.21L82.1 113.13L82.3 113.04L82.5 112.96L82.7 112.87L82.9 112.78L83.1 112.68L83.3 112.59L83.5 112.49L83.7 112.4L83.9 112.3L84.1 112.2L84.3 112.1L84.5 112L84.7 111.9L84.9 111.79L85.1 111.67L85.3 111.55L85.5 111.43L85.7 111.3L85.9 111.18L86.1 111.04L86.3 110.91L86.5 110.78L86.7 110.64L86.9 110.5L87.1 110.36L87.3 110.23L87.5 110.09L87.7 109.95L87.9 109.82L88.1 109.68L88.3 109.55L88.5 109.42L88.7 109.3L88.9 109.18L89.1 109.06L89.3 108.94L89.5 108.82L89.7 108.7L89.9 108.58L90.1 108.46L90.3 108.35L90.5 108.23L90.7 108.12L90.9 108L91.1 107.89L91.3 107.78L91.5 107.66L91.7 107.55L91.9 107.43L92.1 107.32L92.3 107.21L92.5 107.09L92.7 106.98L92.9 106.86L93.1 106.75L93.3 106.63L93.5 106.51L93.7 106.39L93.9 106.28L94.1 106.16L94.3 106.03L94.5 105.91L94.7 105.79L94.9 105.66L95.1 105.54L95.3 105.41L95.5 105.29L95.7 105.16L95.9 105.04L96.1 104.92L96.3 104.79L96.5 104.67L96.7 104.54L96.9 104.42L97.1 104.29L97.3 104.16L97.5 104.03L97.7 103.9L97.9 103.77L98.1 103.64L98.3 103.5L98.5 103.36L98.7 103.22L98.9 103.07L99.1 102.92L99.3 102.77L99.5 102.61L99.7 102.45L99.9 102.28L100.1 102.11L100.3 101.94L100.5 101.75L100.7 101.55L100.9 101.35L101.1 101.15L101.3 100.93L101.5 100.71L101.7 100.49L101.9 100.26L102.1 100.03L102.3 99.8L102.5 99.56L102.7 99.33L102.9 99.09L103.1 98.85L103.3 98.62L103.5 98.38L103.7 98.15L103.9 97.91L104.1 97.68L104.3 97.44L104.5 97.19L104.7 96.94L104.9 96.68L105.1 96.42L105.3 96.16L105.5 95.91L105.7 95.66L105.9 95.42L106.1 95.19L106.3 94.98L106.5 94.78L106.7 94.6L106.9 94.43L107.1 94.27L107.3 94.11L107.5 93.95L107.7 93.8L107.9 93.64L108.1 93.5L108.3 93.36L108.5 93.22L108.7 93.09L108.9 92.96L109.1 92.84L109.3 92.73L109.5 92.62L109.7 92.52L109.9 92.43L110.1 92.34L110.3 92.27L110.5 92.2L110.7 92.14L110.9 92.07L111.1 92.01L111.3 91.95L111.5 91.89L111.7 91.83L111.9 91.77L112.1 91.72L112.3 91.67L112.5 91.62L112.7 91.57L112.9 91.52L113.1 91.48L113.3 91.44L113.5 91.41L113.7 91.38L113.9 91.35L114.1 91.33L114.3 91.32L114.5 91.31L114.7 91.3L114.9 91.3L115.1 91.31L115.3 91.33L115.5 91.35L115.7 91.38L115.9 91.42L116.1 91.47L116.3 91.52L116.5 91.57L116.7 91.63L116.9 91.7L117.1 91.76L117.3 91.84L117.5 91.91L117.7 91.98L117.9 92.06L118.1 92.14L118.3 92.24L118.5 92.35L118.7 92.48L118.9 92.63L119.1 92.78L119.3 92.95L119.5 93.13L119.7 93.31L119.9 93.51L120.1 93.7L120.3 93.9L120.5 94.12L120.7 94.35L120.9 94.6L121.1 94.86L121.3 95.14L121.5 95.42L121.7 95.72L121.9 96.03L122.1 96.34L122.3 96.66L122.5 96.98L122.7 97.31L122.9 97.64L123.1 97.97L123.3 98.31L123.5 98.67L123.7 99.03L123.9 99.41L124.1 99.8L124.3 100.19L124.5 100.59L124.7 100.99L124.9 101.39L125.1 101.8L125.3 102.2L125.5 102.6L125.7 103L125.9 103.41L126.1 103.83L126.3 104.25L126.5 104.68L126.7 105.1L126.9 105.53L127.1 105.94L127.3 106.35L127.5 106.74L127.7 107.12L127.9 107.48L128.1 107.83L128.3 108.18L128.5 108.52L128.7 108.85L128.9 109.18L129.1 109.5L129.3 109.8L129.5 110.1L129.7 110.39L129.9 110.67L130.1 110.93L130.3 111.19L130.5 111.45L130.7 111.71L130.9 111.96L131.1 112.2L131.3 112.44L131.5 112.66L131.7 112.88L131.9 113.08L132.1 113.27L132.3 113.44L132.5 113.6L132.7 113.75L132.9 113.89L133.1 114.02L133.3 114.15L133.5 114.27L133.7 114.39L133.9 114.5L134.1 114.6L134.3 114.7L134.5 114.8L134.7 114.88L134.9 114.96L135.1 115.04L135.3 115.11L135.5 115.18L135.7 115.25L135.9 115.32L136.1 115.38L136.3 115.45L136.5 115.51L136.7 115.57L136.9 115.63L137.1 115.68L137.3 115.74L137.5 115.79L137.7 115.84L137.9 115.89L138.1 115.94L138.3 115.99L138.5 116.03L138.7 116.07L138.9 116.11L139.1 116.15L139.3 116.19L139.5 116.22L139.7 116.26L139.9 116.29L140.1 116.31L140.3 116.34L140.5 116.37L140.7 116.4L140.9 116.42L141.1 116.45L141.3 116.47L141.5 116.5L141.7 116.52L141.9 116.54L142.1 116.57L142.3 116.59L142.5 116.61L142.7 116.63L142.9 116.65L143.1 116.67L143.3 116.69L143.5 116.71L143.7 116.73L143.9 116.75L144.1 116.77L144.3 116.79L144.5 116.8L144.7 116.82L144.9 116.84L145.1 116.85L145.3 116.87L145.5 116.89L145.7 116.9L145.9 116.92L146.1 116.93L146.3 116.95L146.5 116.96L146.7 116.98L146.9 116.99L147.1 117.01L147.3 117.02L147.5 117.04L147.7 117.05L147.9 117.06L148.1 117.08L148.3 117.09L148.5 117.1L148.7 117.12L148.9 117.13L149.1 117.14L149.3 117.15L149.5 117.17L149.7 117.18L149.9 117.19L150.1 117.21L150.3 117.22L150.5 117.23L150.7 117.24L150.9 117.26L151.1 117.27L151.3 117.28L151.5 117.29L151.7 117.3L151.9 117.32L152.1 117.33L152.3 117.34L152.5 117.35L152.7 117.36L152.9 117.37L153.1 117.38L153.3 117.39L153.5 117.4L153.7 117.41L153.9 117.42L154.1 117.43L154.3 117.44L154.5 117.45L154.7 117.46L154.9 117.47L155.1 117.48L155.3 117.49L155.5 117.5L155.7 117.51L155.9 117.52L156.1 117.53L156.3 117.54L156.5 117.55L156.7 117.56L156.9 117.57L157.1 117.58L157.3 117.59L157.5 117.59L157.7 117.6L157.9 117.61L158.1 117.62L158.3 117.63L158.5 117.64L158.7 117.65L158.9 117.65L159.1 117.66L159.3 117.67L159.5 117.68L159.7 117.69L159.9 117.7L160.1 117.7L160.3 117.71L160.5 117.72L160.7 117.73L160.9 117.74L161.1 117.74L161.3 117.75L161.5 117.76L161.7 117.77L161.9 117.78L162.1 117.78L162.3 117.79L162.5 117.8L162.7 117.81L162.9 117.81L163.1 117.82L163.3 117.83L163.5 117.84L163.7 117.84L163.9 117.85L164.1 117.86L164.3 117.86L164.5 117.87L164.7 117.88L164.9 117.88L165.1 117.89L165.3 117.9L165.5 117.91L165.7 117.91L165.9 117.92L166.1 117.92L166.3 117.93L166.5 117.94L166.7 117.94L166.9 117.95L167.1 117.96L167.3 117.96L167.5 117.97L167.7 117.97L167.9 117.98L168.1 117.99L168.3 117.99L168.5 118" fill="none" stroke="#ff00ff" stroke-width="2.9" stroke-linejoin="round"/>
<path d="M25.5 117.9L25.7 117.9L25.9 117.89L26.1 117.89L26.3 117.89L26.5 117.88L26.7 117.88L26.9 117.88L27.1 117.87L27.3 117.87L27.5 117.86L27.7 117.86L27.9 117.86L28.1 117.85L28.3 117.85L28.5 117.84L28.7 117.84L28.9 117.84L29.1 117.83L29.3 117.83L29.5 117.82L29.7 117.82L29.9 117.81L30.1 117.81L30.3 117.8L30.5 117.8L30.7 117.79L30.9 117.79L31.1 117.78L31.3 117.78L31.5 117.77L31.7 117.77L31.9 117.76L32.1 117.76L32.3 117.75L32.5 117.74L32.7 117.74L32.9 117.73L33.1 117.73L33.3 117.72L33.5 117.72L33.7 117.71L33.9 117.7L34.1 117.7L34.3 117.69L34.5 117.68L34.7 117.68L34.9 117.67L35.1 117.67L35.3 117.66L35.5 117.65L35.7 117.65L35.9 117.64L36.1 117.63L36.3 117.63L36.5 117.62L36.7 117.61L36.9 117.61L37.1 117.6L37.3 117.59L37.5 117.59L37.7 117.58L37.9 117.57L38.1 117.57L38.3 117.56L38.5 117.55L38.7 117.54L38.9 117.54L39.1 117.53L39.3 117.52L39.5 117.51L39.7 117.51L39.9 117.5L40.1 117.49L40.3 117.49L40.5 117.48L40.7 117.47L40.9 117.46L41.1 117.45L41.3 117.45L41.5 117.44L41.7 117.43L41.9 117.42L42.1 117.42L42.3 117.41L42.5 117.4L42.7 117.39L42.9 117.38L43.1 117.38L43.3 117.37L43.5 117.36L43.7 117.35L43.9 117.34L44.1 117.34L44.3 117.33L44.5 117.32L44.7 117.31L44.9 117.3L45.1 117.3L45.3 117.29L45.5 117.28L45.7 117.27L45.9 117.26L46.1 117.25L46.3 117.24L46.5 117.24L46.7 117.23L46.9 117.22L47.1 117.21L47.3 117.2L47.5 117.19L47.7 117.18L47.9 117.17L48.1 117.16L48.3 117.15L48.5 117.14L48.7 117.13L48.9 117.12L49.1 117.11L49.3 117.1L49.5 117.09L49.7 117.08L49.9 117.07L50.1 117.06L50.3 117.05L50.5 117.04L50.7 117.03L50.9 117.02L51.1 117.01L51.3 117L51.5 116.99L51.7 116.98L51.9 116.96L52.1 116.95L52.3 116.94L52.5 116.93L52.7 116.92L52.9 116.91L53.1 116.9L53.3 116.88L53.5 116.87L53.7 116.86L53.9 116.85L54.1 116.84L54.3 116.82L54.5 116.81L54.7 116.8L54.9 116.79L55.1 116.77L55.3 116.76L55.5 116.75L55.7 116.74L55.9 116.72L56.1 116.71L56.3 116.7L56.5 116.69L56.7 116.67L56.9 116.66L57.1 116.65L57.3 116.63L57.5 116.62L57.7 116.61L57.9 116.59L58.1 116.58L58.3 116.57L58.5 116.55L58.7 116.54L58.9 116.53L59.1 116.51L59.3 116.5L59.5 116.48L59.7 116.47L59.9 116.46L60.1 116.44L60.3 116.43L60.5 116.41L60.7 116.4L60.9 116.39L61.1 116.37L61.3 116.36L61.5 116.34L61.7 116.33L61.9 116.31L62.1 116.3L62.3 116.28L62.5 116.27L62.7 116.25L62.9 116.24L63.1 116.22L63.3 116.21L63.5 116.19L63.7 116.18L63.9 116.16L64.1 116.15L64.3 116.13L64.5 116.12L64.7 116.1L64.9 116.09L65.1 116.07L65.3 116.05L65.5 116.04L65.7 116.02L65.9 116.01L66.1 115.99L66.3 115.98L66.5 115.96L66.7 115.94L66.9 115.93L67.1 115.91L67.3 115.9L67.5 115.88L67.7 115.87L67.9 115.85L68.1 115.83L68.3 115.82L68.5 115.8L68.7 115.78L68.9 115.77L69.1 115.75L69.3 115.73L69.5 115.71L69.7 115.7L69.9 115.68L70.1 115.66L70.3 115.64L70.5 115.62L70.7 115.6L70.9 115.59L71.1 115.57L71.3 115.55L71.5 115.53L71.7 115.51L71.9 115.48L72.1 115.46L72.3 115.44L72.5 115.42L72.7 115.4L72.9 115.37L73.1 115.35L73.3 115.33L73.5 115.3L73.7 115.28L73.9 115.25L74.1 115.22L74.3 115.2L74.5 115.17L74.7 115.14L74.9 115.11L75.1 115.09L75.3 115.06L75.5 115.02L75.7 114.99L75.9 114.96L76.1 114.92L76.3 114.89L76.5 114.85L76.7 114.81L76.9 114.77L77.1 114.73L77.3 114.69L77.5 114.64L77.7 114.6L77.9 114.55L78.1 114.5L78.3 114.45L78.5 114.4L78.7 114.35L78.9 114.29L79.1 114.24L79.3 114.18L79.5 114.12L79.7 114.06L79.9 114L80.1 113.93L80.3 113.87L80.5 113.8L80.7 113.72L80.9 113.64L81.1 113.55L81.3 113.45L81.5 113.36L81.7 113.26L81.9 113.15L82.1 113.04L82.3 112.93L82.5 112.82L82.7 112.7L82.9 112.58L83.1 112.46L83.3 112.34L83.5 112.22L83.7 112.09L83.9 111.97L84.1 111.85L84.3 111.72L84.5 111.6L84.7 111.48L84.9 111.35L85.1 111.22L85.3 111.08L85.5 110.94L85.7 110.8L85.9 110.66L86.1 110.51L86.3 110.37L86.5 110.22L86.7 110.07L86.9 109.92L87.1 109.77L87.3 109.62L87.5 109.47L87.7 109.32L87.9 109.18L88.1 109.03L88.3 108.88L88.5 108.74L88.7 108.6L88.9 108.46L89.1 108.32L89.3 108.19L89.5 108.05L89.7 107.91L89.9 107.78L90.1 107.65L90.3 107.51L90.5 107.38L90.7 107.25L90.9 107.11L91.1 106.98L91.3 106.85L91.5 106.72L91.7 106.58L91.9 106.45L92.1 106.32L92.3 106.19L92.5 106.05L92.7 105.92L92.9 105.78L93.1 105.65L93.3 105.51L93.5 105.37L93.7 105.23L93.9 105.09L94.1 104.95L94.3 104.81L94.5 104.67L94.7 104.52L94.9 104.37L95.1 104.23L95.3 104.08L95.5 103.93L95.7 103.78L95.9 103.63L96.1 103.49L96.3 103.34L96.5 103.19L96.7 103.04L96.9 102.89L97.1 102.74L97.3 102.59L97.5 102.44L97.7 102.28L97.9 102.13L98.1 101.97L98.3 101.81L98.5 101.65L98.7 101.49L98.9 101.32L99.1 101.15L99.3 100.98L99.5 100.81L99.7 100.63L99.9 100.45L100.1 100.27L100.3 100.08L100.5 99.89L100.7 99.7L100.9 99.5L101.1 99.3L101.3 99.09L101.5 98.88L101.7 98.67L101.9 98.44L102.1 98.22L102.3 97.99L102.5 97.75L102.7 97.5L102.9 97.25L103.1 97L103.3 96.73L103.5 96.46L103.7 96.19L103.9 95.9L104.1 95.61L104.3 95.31L104.5 95L104.7 94.68L104.9 94.34L105.1 93.98L105.3 93.6L105.5 93.21L105.7 92.81L105.9 92.4L106.1 91.98L106.3 91.55L106.5 91.11L106.7 90.67L106.9 90.22L107.1 89.77L107.3 89.31L107.5 88.82L107.7 88.32L107.9 87.82L108.1 87.3L108.3 86.78L108.5 86.27L108.7 85.75L108.9 85.25L109.1 84.74L109.3 84.23L109.5 83.72L109.7 83.21L109.9 82.7L110.1 82.18L110.3 81.67L110.5 81.16L110.7 80.64L110.9 80.1L111.1 79.54L111.3 78.98L111.5 78.41L111.7 77.86L111.9 77.34L112.1 76.85L112.3 76.4L112.5 76L112.7 75.63L112.9 75.25L113.1 74.86L113.3 74.49L113.5 74.12L113.7 73.77L113.9 73.45L114.1 73.15L114.3 72.9L114.5 72.69L114.7 72.53L114.9 72.43L115.1 72.4L115.3 72.44L115.5 72.56L115.7 72.75L115.9 72.99L116.1 73.29L116.3 73.62L116.5 73.99L116.7 74.39L116.9 74.79L117.1 75.23L117.3 75.81L117.5 76.51L117.7 77.32L117.9 78.2L118.1 79.11L118.3 80.02L118.5 80.9L118.7 81.79L118.9 82.73L119.1 83.69L119.3 84.64L119.5 85.56L119.7 86.43L119.9 87.29L120.1 88.13L120.3 88.93L120.5 89.66L120.7 90.32L120.9 90.92L121.1 91.49L121.3 92.03L121.5 92.55L121.7 93.05L121.9 93.54L122.1 94.02L122.3 94.51L122.5 95L122.7 95.49L122.9 95.98L123.1 96.45L123.3 96.92L123.5 97.4L123.7 97.87L123.9 98.35L124.1 98.85L124.3 99.35L124.5 99.86L124.7 100.38L124.9 100.9L125.1 101.42L125.3 101.94L125.5 102.46L125.7 102.98L125.9 103.5L126.1 104.01L126.3 104.51L126.5 105L126.7 105.5L126.9 106.01L127.1 106.52L127.3 107.04L127.5 107.56L127.7 108.07L127.9 108.57L128.1 109.05L128.3 109.5L128.5 109.92L128.7 110.3L128.9 110.65L129.1 110.95L129.3 111.23L129.5 111.5L129.7 111.75L129.9 112L130.1 112.23L130.3 112.46L130.5 112.67L130.7 112.87L130.9 113.07L131.1 113.25L131.3 113.43L131.5 113.6L131.7 113.77L131.9 113.92L132.1 114.08L132.3 114.22L132.5 114.37L132.7 114.51L132.9 114.65L133.1 114.79L133.3 114.92L133.5 115.05L133.7 115.17L133.9 115.3L134.1 115.41L134.3 115.53L134.5 115.63L134.7 115.74L134.9 115.84L135.1 115.93L135.3 116.02L135.5 116.11L135.7 116.19L135.9 116.26L136.1 116.33L136.3 116.4L136.5 116.47L136.7 116.54L136.9 116.6L137.1 116.66L137.3 116.72L137.5 116.78L137.7 116.83L137.9 116.89L138.1 116.94L138.3 116.99L138.5 117.04L138.7 117.08L138.9 117.12L139.1 117.16L139.3 117.2L139.5 117.23L139.7 117.26L139.9 117.29L140.1 117.31L140.3 117.34L140.5 117.36L140.7 117.38L140.9 117.4L141.1 117.43L141.3 117.45L141.5 117.47L141.7 117.49L141.9 117.51L142.1 117.53L142.3 117.55L142.5 117.57L142.7 117.59L142.9 117.6L143.1 117.62L143.3 117.64L143.5 117.66L143.7 117.67L143.9 117.69L144.1 117.71L144.3 117.72L144.5 117.74L144.7 117.75L144.9 117.77L145.1 117.78L145.3 117.79L145.5 117.81L145.7 117.82L145.9 117.83L146.1 117.84L146.3 117.86L146.5 117.87L146.7 117.88L146.9 117.89L147.1 117.9L147.3 117.91L147.5 117.92L147.7 117.93L147.9 117.94L148.1 117.94L148.3 117.95L148.5 117.96L148.7 117.97L148.9 117.97L149.1 117.98L149.3 117.98L149.5 117.99L149.7 117.99L149.9 118L150.1 118L150.3 118.01L150.5 118.01L150.7 118.01L150.9 118.02L151.1 118.02L151.3 118.03L151.5 118.03L151.7 118.03L151.9 118.04L152.1 118.04L152.3 118.04L152.5 118.05L152.7 118.05L152.9 118.05L153.1 118.06L153.3 118.06L153.5 118.06L153.7 118.07L153.9 118.07L154.1 118.08L154.3 118.08L154.5 118.08L154.7 118.08L154.9 118.09L155.1 118.09L155.3 118.09L155.5 118.1L155.7 118.1L155.9 118.1L156.1 118.11L156.3 118.11L156.5 118.11L156.7 118.11L156.9 118.12L157.1 118.12L157.3 118.12L157.5 118.13L157.7 118.13L157.9 118.13L158.1 118.13L158.3 118.14L158.5 118.14L158.7 118.14L158.9 118.14L159.1 118.14L159.3 118.15L159.5 118.15L159.7 118.15L159.9 118.15L160.1 118.16L160.3 118.16L160.5 118.16L160.7 118.16L160.9 118.16L161.1 118.16L161.3 118.17L161.5 118.17L161.7 118.17L161.9 118.17L162.1 118.17L162.3 118.18L162.5 118.18L162.7 118.18L162.9 118.18L163.1 118.18L163.3 118.18L163.5 118.18L163.7 118.18L163.9 118.19L164.1 118.19L164.3 118.19L164.5 118.19L164.7 118.19L164.9 118.19L165.1 118.19L165.3 118.19L165.5 118.19L165.7 118.19L165.9 118.2L166.1 118.2L166.3 118.2L166.5 118.2L166.7 118.2L166.9 118.2L167.1 118.2L167.3 118.2L167.5 118.2L167.7 118.2L167.9 118.2L168.1 118.2L168.3 118.2L168.5 118.2" fill="none" stroke="#800080" stroke-width="0.9"/>
<line x1="26" y1="5" x2="26" y2="119" stroke="#d4d4d4" stroke-width="2" />
<line x1="25" y1="5.5" x2="168.6" y2="5.5" stroke="#505050" stroke-width="1" />
<line x1="168.6" y1="5" x2="168.6" y2="118.8" stroke="#707070" stroke-width="1" />
<line x1="25" y1="118.3" x2="169" y2="118.3" stroke="#404040" stroke-width="1" />
<line x1="26.5" y1="118.2" x2="28.7" y2="118.2" stroke="#555" stroke-width="0.8" />
<line x1="26.5" y1="104.05" x2="28.1" y2="104.05" stroke="#555" stroke-width="0.8" />
<line x1="26.5" y1="89.9" x2="28.7" y2="89.9" stroke="#555" stroke-width="0.8" />
<line x1="26.5" y1="75.75" x2="28.1" y2="75.75" stroke="#555" stroke-width="0.8" />
<line x1="26.5" y1="61.6" x2="28.7" y2="61.6" stroke="#555" stroke-width="0.8" />
<line x1="26.5" y1="47.45" x2="28.1" y2="47.45" stroke="#555" stroke-width="0.8" />
<line x1="26.5" y1="33.3" x2="28.7" y2="33.3" stroke="#555" stroke-width="0.8" />
<line x1="26.5" y1="19.15" x2="28.1" y2="19.15" stroke="#555" stroke-width="0.8" />
<line x1="26.5" y1="5" x2="28.7" y2="5" stroke="#555" stroke-width="0.8" />
<line x1="25.5" y1="118.3" x2="25.5" y2="116.1" stroke="#555" stroke-width="0.8" />
<line x1="37.42" y1="118.3" x2="37.42" y2="116.7" stroke="#555" stroke-width="0.8" />
<line x1="49.35" y1="118.3" x2="49.35" y2="116.1" stroke="#555" stroke-width="0.8" />
<line x1="61.28" y1="118.3" x2="61.28" y2="116.7" stroke="#555" stroke-width="0.8" />
<line x1="73.2" y1="118.3" x2="73.2" y2="116.1" stroke="#555" stroke-width="0.8" />
<line x1="85.12" y1="118.3" x2="85.12" y2="116.7" stroke="#555" stroke-width="0.8" />
<line x1="97.05" y1="118.3" x2="97.05" y2="116.1" stroke="#555" stroke-width="0.8" />
<line x1="108.98" y1="118.3" x2="108.98" y2="116.7" stroke="#555" stroke-width="0.8" />
<line x1="120.9" y1="118.3" x2="120.9" y2="116.1" stroke="#555" stroke-width="0.8" />
<line x1="132.82" y1="118.3" x2="132.82" y2="116.7" stroke="#555" stroke-width="0.8" />
<line x1="144.75" y1="118.3" x2="144.75" y2="116.1" stroke="#555" stroke-width="0.8" />
<line x1="156.68" y1="118.3" x2="156.68" y2="116.7" stroke="#555" stroke-width="0.8" />
<line x1="168.6" y1="118.3" x2="168.6" y2="116.1" stroke="#555" stroke-width="0.8" />
<text x="23.9" y="120.05" font-size="5.6" text-anchor="end" font-family='"Liberation Serif", serif' fill="#000" >0</text>
<text x="23.9" y="91.75" font-size="5.6" text-anchor="end" font-family='"Liberation Serif", serif' fill="#000" >200</text>
<text x="23.9" y="63.45" font-size="5.6" text-anchor="end" font-family='"Liberation Serif", serif' fill="#000" >400</text>
<text x="23.9" y="35.15" font-size="5.6" text-anchor="end" font-family='"Liberation Serif", serif' fill="#000" >600</text>
<text x="23.9" y="6.85" font-size="5.6" text-anchor="end" font-family='"Liberation Serif", serif' fill="#000" >800</text>
<text x="25.5" y="124.95" font-size="5.6" text-anchor="middle" font-family='"Liberation Serif", serif' fill="#000" >4</text>
<text x="49.35" y="124.95" font-size="5.6" text-anchor="middle" font-family='"Liberation Serif", serif' fill="#000" >5</text>
<text x="73.2" y="124.95" font-size="5.6" text-anchor="middle" font-family='"Liberation Serif", serif' fill="#000" >6</text>
<text x="97.05" y="124.95" font-size="5.6" text-anchor="middle" font-family='"Liberation Serif", serif' fill="#000" >7</text>
<text x="120.9" y="124.95" font-size="5.6" text-anchor="middle" font-family='"Liberation Serif", serif' fill="#000" >8</text>
<text x="144.75" y="124.95" font-size="5.6" text-anchor="middle" font-family='"Liberation Serif", serif' fill="#000" >9</text>
<text x="168.6" y="124.95" font-size="5.6" text-anchor="middle" font-family='"Liberation Serif", serif' fill="#000" >10</text>
<text transform="translate(97.5,134.58) scale(0.87,1)" font-size="6.9" text-anchor="middle" font-family='"Liberation Sans", sans-serif'>Frequency (THz)</text>
<text transform="translate(7.1,59.2) rotate(-90)" font-size="6.8" text-anchor="middle" font-family='"Liberation Serif", serif'>Real <tspan font-style="italic">Z</tspan><tspan font-size="4.7" dy="1.8">in</tspan><tspan dy="-1.8"> (Ohm)</tspan></text>
<text x="72" y="99.14" font-size="8" text-anchor="middle" font-family='"Liberation Serif", serif' fill="#000" >(a)</text>
<rect x="127.5" y="11.5" width="31.6" height="37" fill="#fff" stroke="#888" stroke-width="0.8"/>
<line x1="130" y1="16.4" x2="143.5" y2="16.4" stroke="#ff5050" stroke-width="0.6" />
<text x="144.8" y="18.18" font-size="5.4" text-anchor="start" font-family='"Liberation Sans", sans-serif' fill="#000" >0ev</text>
<line x1="130" y1="23.6" x2="143.5" y2="23.6" stroke="#0000ff" stroke-width="0.7" stroke-dasharray="1.4 1"/>
<text x="144.8" y="25.38" font-size="5.4" text-anchor="start" font-family='"Liberation Sans", sans-serif' fill="#000" >0.1ev</text>
<line x1="130" y1="30.8" x2="143.5" y2="30.8" stroke="#800080" stroke-width="1.1" />
<text x="144.8" y="32.58" font-size="5.4" text-anchor="start" font-family='"Liberation Sans", sans-serif' fill="#000" >0.2ev</text>
<line x1="130" y1="37.9" x2="143.5" y2="37.9" stroke="#ff60ff" stroke-width="0.9" stroke-dasharray="1.2 0.9"/>
<text x="144.8" y="39.68" font-size="5.4" text-anchor="start" font-family='"Liberation Sans", sans-serif' fill="#000" >0.3ev</text>
<line x1="130" y1="44.9" x2="143.5" y2="44.9" stroke="#222" stroke-width="1.2" />
<text x="144.8" y="46.68" font-size="5.4" text-anchor="start" font-family='"Liberation Sans", sans-serif' fill="#000" >0.4ev</text>
<circle cx="137" cy="16.4" r="0.9" fill="#ff0000"/>
<path d="M135.8 22.5L138.4 23.6L135.8 24.700000000000003Z" fill="#0000ff"/>
<circle cx="137" cy="37.9" r="1" fill="#ff00ff"/>
<path d="M215 51.8L215.2 51.85L215.4 51.9L215.6 51.95L215.8 52.01L216 52.06L216.2 52.11L216.4 52.16L216.6 52.21L216.8 52.27L217 52.32L217.2 52.37L217.4 52.42L217.6 52.48L217.8 52.53L218 52.58L218.2 52.64L218.4 52.69L218.6 52.74L218.8 52.8L219 52.85L219.2 52.91L219.4 52.96L219.6 53.01L219.8 53.07L220 53.12L220.2 53.18L220.4 53.23L220.6 53.29L220.8 53.34L221 53.4L221.2 53.46L221.4 53.51L221.6 53.57L221.8 53.62L222 53.68L222.2 53.73L222.4 53.79L222.6 53.85L222.8 53.9L223 53.96L223.2 54.01L223.4 54.07L223.6 54.13L223.8 54.18L224 54.24L224.2 54.3L224.4 54.36L224.6 54.41L224.8 54.47L225 54.53L225.2 54.59L225.4 54.65L225.6 54.7L225.8 54.76L226 54.82L226.2 54.88L226.4 54.94L226.6 55L226.8 55.06L227 55.12L227.2 55.19L227.4 55.25L227.6 55.31L227.8 55.37L228 55.44L228.2 55.5L228.4 55.56L228.6 55.63L228.8 55.69L229 55.76L229.2 55.83L229.4 55.9L229.6 55.96L229.8 56.03L230 56.1L230.2 56.17L230.4 56.24L230.6 56.31L230.8 56.38L231 56.45L231.2 56.52L231.4 56.59L231.6 56.67L231.8 56.74L232 56.81L232.2 56.88L232.4 56.96L232.6 57.03L232.8 57.1L233 57.17L233.2 57.25L233.4 57.32L233.6 57.39L233.8 57.47L234 57.54L234.2 57.61L234.4 57.68L234.6 57.76L234.8 57.83L235 57.9L235.2 57.97L235.4 58.04L235.6 58.11L235.8 58.18L236 58.25L236.2 58.32L236.4 58.4L236.6 58.46L236.8 58.53L237 58.6L237.2 58.67L237.4 58.74L237.6 58.81L237.8 58.88L238 58.95L238.2 59.02L238.4 59.09L238.6 59.17L238.8 59.24L239 59.31L239.2 59.38L239.4 59.45L239.6 59.52L239.8 59.6L240 59.67L240.2 59.74L240.4 59.82L240.6 59.89L240.8 59.97L241 60.04L241.2 60.12L241.4 60.2L241.6 60.28L241.8 60.36L242 60.44L242.2 60.52L242.4 60.6L242.6 60.68L242.8 60.77L243 60.85L243.2 60.94L243.4 61.03L243.6 61.11L243.8 61.2L244 61.29L244.2 61.39L244.4 61.48L244.6 61.57L244.8 61.66L245 61.76L245.2 61.85L245.4 61.95L245.6 62.04L245.8 62.14L246 62.24L246.2 62.33L246.4 62.43L246.6 62.53L246.8 62.63L247 62.73L247.2 62.83L247.4 62.92L247.6 63.02L247.8 63.12L248 63.22L248.2 63.32L248.4 63.42L248.6 63.52L248.8 63.62L249 63.71L249.2 63.81L249.4 63.91L249.6 64.01L249.8 64.1L250 64.2L250.2 64.3L250.4 64.4L250.6 64.5L250.8 64.6L251 64.7L251.2 64.81L251.4 64.91L251.6 65.02L251.8 65.12L252 65.23L252.2 65.34L252.4 65.45L252.6 65.56L252.8 65.67L253 65.77L253.2 65.88L253.4 65.99L253.6 66.1L253.8 66.21L254 66.31L254.2 66.42L254.4 66.53L254.6 66.63L254.8 66.73L255 66.83L255.2 66.93L255.4 67.03L255.6 67.13L255.8 67.22L256 67.32L256.2 67.41L256.4 67.49L256.6 67.58L256.8 67.66L257 67.74L257.2 67.82L257.4 67.9L257.6 67.97L257.8 68.04L258 68.1L258.2 68.16L258.4 68.23L258.6 68.29L258.8 68.36L259 68.42L259.2 68.49L259.4 68.55L259.6 68.61L259.8 68.67L260 68.73L260.2 68.79L260.4 68.84L260.6 68.9L260.8 68.94L261 68.99L261.2 69.03L261.4 69.07L261.6 69.11L261.8 69.14L262 69.16L262.2 69.18L262.4 69.19L262.6 69.2L262.8 69.21L263 69.22L263.2 69.23L263.4 69.24L263.6 69.24L263.8 69.25L264 69.26L264.2 69.26L264.4 69.27L264.6 69.27L264.8 69.28L265 69.28L265.2 69.29L265.4 69.29L265.6 69.29L265.8 69.3L266 69.3L266.2 69.3L266.4 69.3L266.6 69.3L266.8 69.29L267 69.28L267.2 69.26L267.4 69.23L267.6 69.19L267.8 69.16L268 69.11L268.2 69.06L268.4 69.01L268.6 68.95L268.8 68.89L269 68.83L269.2 68.76L269.4 68.7L269.6 68.63L269.8 68.56L270 68.48L270.2 68.41L270.4 68.34L270.6 68.26L270.8 68.18L271 68.1L271.2 68.01L271.4 67.91L271.6 67.81L271.8 67.69L272 67.58L272.2 67.45L272.4 67.32L272.6 67.18L272.8 67.04L273 66.88L273.2 66.72L273.4 66.55L273.6 66.38L273.8 66.19L274 66L274.2 65.78L274.4 65.53L274.6 65.25L274.8 64.93L275 64.59L275.2 64.23L275.4 63.85L275.6 63.45L275.8 63.04L276 62.63L276.2 62.21L276.4 61.79L276.6 61.33L276.8 60.84L277 60.32L277.2 59.78L277.4 59.21L277.6 58.6L277.8 57.95L278 57.27L278.2 56.57L278.4 55.85L278.6 55.12L278.8 54.4L279 53.69L279.2 52.99L279.4 52.32L279.6 51.68L279.8 51.03L280 50.38L280.2 49.72L280.4 49.08L280.6 48.45L280.8 47.84L281 47.27L281.2 46.73L281.4 46.23L281.6 45.77L281.8 45.3L282 44.81L282.2 44.33L282.4 43.88L282.6 43.46L282.8 43.11L283 42.84L283.2 42.66L283.4 42.6L283.6 42.82L283.8 43.43L284 44.32L284.2 45.41" fill="none" stroke="#ff0000" stroke-width="1.7" stroke-linejoin="round"/>
<path d="M284 44.32h0M284.3 46h0M284.6 49.13h0M284.9 53.58h0M285.2 57.73h0M285.5 62h0M285.8 66.56h0M286.1 71.47h0M286.4 76.94h0M286.7 83.2h0M287 88.04h0M287.3 92h0M287.6 95.6h0M287.9 98.93h0M288.2 102.19h0M288.5 105.41h0M288.8 108h0M289.1 110.14h0M289.4 111.94h0M289.7 112.7h0" fill="none" stroke="#ff0000" stroke-width="1.3" stroke-linecap="round"/>
<path d="M289.8 112.65L290 112.24L290.2 111.49L290.4 110.49L290.6 109.32L290.8 108.05L291 106.76L291.2 105.54L291.4 104.46L291.6 103.58L291.8 102.76L292 101.98L292.2 101.23L292.4 100.49L292.6 99.75L292.8 99L293 98.23L293.2 97.42L293.4 96.57L293.6 95.65L293.8 94.7L294 93.72L294.2 92.74L294.4 91.78L294.6 90.86L294.8 90L295 89.19L295.2 88.42L295.4 87.68L295.6 86.96L295.8 86.25L296 85.55L296.2 84.84L296.4 84.12L296.6 83.38L296.8 82.61L297 81.84L297.2 81.05L297.4 80.26L297.6 79.46L297.8 78.65L298 77.83L298.2 77L298.4 76.17L298.6 75.33L298.8 74.49L299 73.64L299.2 72.77L299.4 71.88L299.6 70.96L299.8 70L300 68.97L300.2 67.87L300.4 66.73L300.6 65.6L300.8 64.51L301 63.5L301.2 62.55L301.4 61.62L301.6 60.71L301.8 59.82L302 58.92L302.2 58L302.4 57.06L302.6 56.11L302.8 55.15L303 54.19L303.2 53.24L303.4 52.32L303.6 51.43L303.8 50.58L304 49.74L304.2 48.91L304.4 48.1L304.6 47.31L304.8 46.53L305 45.78L305.2 45.05L305.4 44.34L305.6 43.66L305.8 43.01L306 42.39L306.2 41.78L306.4 41.19L306.6 40.61L306.8 40.04L307 39.46L307.2 38.88L307.4 38.3L307.6 37.7L307.8 37.09L308 36.47L308.2 35.85L308.4 35.23L308.6 34.61L308.8 34L309 33.41L309.2 32.83L309.4 32.27L309.6 31.73L309.8 31.22L310 30.71L310.2 30.22L310.4 29.74L310.6 29.26L310.8 28.8L311 28.33L311.2 27.87L311.4 27.41L311.6 26.95L311.8 26.48L312 26L312.2 25.52L312.4 25.03L312.6 24.55L312.8 24.06L313 23.57L313.2 23.09L313.4 22.6L313.6 22.12L313.8 21.64L314 21.17L314.2 20.7L314.4 20.23L314.6 19.77L314.8 19.3L315 18.83L315.2 18.36L315.4 17.88L315.6 17.41L315.8 16.95L316 16.5L316.2 16.06L316.4 15.64L316.6 15.24L316.8 14.86L317 14.5L317.2 14.16L317.4 13.83L317.6 13.5L317.8 13.18L318 12.87" fill="none" stroke="#ff0000" stroke-width="1.05"/>
<path d="M317.2 14.16L317.4 13.83L317.6 13.5L317.8 13.18L318 12.87L318.2 12.57L318.4 12.29L318.6 12.02L318.8 11.76L319 11.52L319.2 11.3L319.4 11.09L319.6 10.91L319.8 10.73L320 10.56L320.2 10.4L320.4 10.24L320.6 10.09L320.8 9.94L321 9.8L321.2 9.67L321.4 9.55L321.6 9.43L321.8 9.32L322 9.22L322.2 9.13L322.4 9.04L322.6 8.96L322.8 8.88L323 8.81L323.2 8.73L323.4 8.66L323.6 8.59L323.8 8.52L324 8.45L324.2 8.38L324.4 8.32L324.6 8.26L324.8 8.2L325 8.14L325.2 8.09L325.4 8.04L325.6 8L325.8 7.96L326 7.92L326.2 7.89L326.4 7.86L326.6 7.83L326.8 7.81L327 7.8L327.2 7.79L327.4 7.78L327.6 7.76L327.8 7.75L328 7.74L328.2 7.73L328.4 7.72L328.6 7.71L328.8 7.7L329 7.69L329.2 7.68L329.4 7.68L329.6 7.67L329.8 7.66L330 7.65L330.2 7.65L330.4 7.64L330.6 7.63L330.8 7.63L331 7.62L331.2 7.62L331.4 7.62L331.6 7.61L331.8 7.61L332 7.61L332.2 7.6L332.4 7.6L332.6 7.6L332.8 7.6L333 7.6L333.2 7.6L333.4 7.6L333.6 7.61L333.8 7.61L334 7.62L334.2 7.63L334.4 7.64L334.6 7.65L334.8 7.66L335 7.67L335.2 7.69L335.4 7.7L335.6 7.72L335.8 7.73L336 7.75L336.2 7.77L336.4 7.79L336.6 7.81L336.8 7.83L337 7.85L337.2 7.87L337.4 7.9L337.6 7.92L337.8 7.94L338 7.96L338.2 7.99L338.4 8.01L338.6 8.04L338.8 8.06L339 8.08L339.2 8.11L339.4 8.13L339.6 8.15L339.8 8.18L340 8.2L340.2 8.22L340.4 8.25L340.6 8.27L340.8 8.3L341 8.33L341.2 8.36L341.4 8.39L341.6 8.42L341.8 8.45L342 8.48L342.2 8.51L342.4 8.55L342.6 8.58L342.8 8.61L343 8.65L343.2 8.69L343.4 8.72L343.6 8.76L343.8 8.8L344 8.83L344.2 8.87L344.4 8.91L344.6 8.95L344.8 8.99L345 9.02L345.2 9.06L345.4 9.1L345.6 9.14L345.8 9.18L346 9.22L346.2 9.26L346.4 9.3L346.6 9.34L346.8 9.38L347 9.41L347.2 9.45L347.4 9.49L347.6 9.53L347.8 9.56L348 9.6L348.2 9.64L348.4 9.67L348.6 9.71L348.8 9.75L349 9.78L349.2 9.82L349.4 9.86L349.6 9.89L349.8 9.93L350 9.97L350.2 10L350.4 10.04L350.6 10.08L350.8 10.11L351 10.15L351.2 10.19L351.4 10.23L351.6 10.26L351.8 10.3L352 10.34L352.2 10.38L352.4 10.41L352.6 10.45L352.8 10.49L353 10.53L353.2 10.56L353.4 10.6L353.6 10.64L353.8 10.68L354 10.72L354.2 10.76L354.4 10.79L354.6 10.83L354.8 10.87L355 10.91L355.2 10.95L355.4 10.99L355.6 11.03L355.8 11.06L356 11.1L356.2 11.14L356.4 11.18" fill="none" stroke="#ff0000" stroke-width="1.7"/>
<path d="M215 51.8L215.2 51.85L215.4 51.9L215.6 51.95L215.8 52.01L216 52.06L216.2 52.11L216.4 52.16L216.6 52.21L216.8 52.27L217 52.32L217.2 52.37L217.4 52.42L217.6 52.48L217.8 52.53L218 52.58L218.2 52.64L218.4 52.69L218.6 52.74L218.8 52.8L219 52.85L219.2 52.91L219.4 52.96L219.6 53.01L219.8 53.07L220 53.12L220.2 53.18L220.4 53.23L220.6 53.29L220.8 53.34L221 53.4L221.2 53.46L221.4 53.51L221.6 53.57L221.8 53.62L222 53.68L222.2 53.73L222.4 53.79L222.6 53.85L222.8 53.9L223 53.96L223.2 54.01L223.4 54.07L223.6 54.13L223.8 54.18L224 54.24L224.2 54.3L224.4 54.36L224.6 54.41L224.8 54.47L225 54.53L225.2 54.59L225.4 54.65L225.6 54.7L225.8 54.76L226 54.82L226.2 54.88L226.4 54.94L226.6 55L226.8 55.06L227 55.12L227.2 55.19L227.4 55.25L227.6 55.31L227.8 55.37L228 55.44L228.2 55.5L228.4 55.56L228.6 55.63L228.8 55.69L229 55.76L229.2 55.83L229.4 55.9L229.6 55.96L229.8 56.03L230 56.1L230.2 56.17L230.4 56.24L230.6 56.31L230.8 56.38L231 56.45L231.2 56.52L231.4 56.59L231.6 56.67L231.8 56.74L232 56.81L232.2 56.88L232.4 56.96L232.6 57.03L232.8 57.1L233 57.17L233.2 57.25L233.4 57.32L233.6 57.39L233.8 57.47L234 57.54L234.2 57.61L234.4 57.68L234.6 57.76L234.8 57.83L235 57.9L235.2 57.97L235.4 58.04L235.6 58.11L235.8 58.18L236 58.25L236.2 58.32L236.4 58.4L236.6 58.46L236.8 58.53L237 58.6L237.2 58.67L237.4 58.74L237.6 58.81L237.8 58.88L238 58.95L238.2 59.02L238.4 59.09L238.6 59.17L238.8 59.24L239 59.31L239.2 59.38L239.4 59.45L239.6 59.52L239.8 59.6L240 59.67L240.2 59.74L240.4 59.82L240.6 59.89L240.8 59.97L241 60.04L241.2 60.12L241.4 60.2L241.6 60.28L241.8 60.36L242 60.44L242.2 60.52L242.4 60.6L242.6 60.68L242.8 60.77L243 60.85L243.2 60.93L243.4 61.02L243.6 61.1L243.8 61.19L244 61.27L244.2 61.36L244.4 61.45L244.6 61.53L244.8 61.62L245 61.71L245.2 61.8L245.4 61.89L245.6 61.98L245.8 62.07L246 62.17L246.2 62.26L246.4 62.35L246.6 62.45L246.8 62.54L247 62.64L247.2 62.74L247.4 62.84L247.6 62.93L247.8 63.03L248 63.13L248.2 63.24L248.4 63.34L248.6 63.44L248.8 63.55L249 63.65L249.2 63.76L249.4 63.87L249.6 63.98L249.8 64.09L250 64.2L250.2 64.31L250.4 64.43L250.6 64.56L250.8 64.68L251 64.81L251.2 64.95L251.4 65.08L251.6 65.22L251.8 65.36L252 65.51L252.2 65.66L252.4 65.8L252.6 65.95L252.8 66.1L253 66.26L253.2 66.41L253.4 66.56L253.6 66.72L253.8 66.87L254 67.03L254.2 67.18L254.4 67.33L254.6 67.49L254.8 67.64L255 67.79L255.2 67.94L255.4 68.08L255.6 68.23L255.8 68.37L256 68.51L256.2 68.64L256.4 68.78L256.6 68.91L256.8 69.03L257 69.16L257.2 69.27L257.4 69.39L257.6 69.5L257.8 69.6L258 69.7L258.2 69.8L258.4 69.89L258.6 69.98L258.8 70.07L259 70.16L259.2 70.25L259.4 70.34L259.6 70.43L259.8 70.51L260 70.59L260.2 70.67L260.4 70.75L260.6 70.83L260.8 70.91L261 70.98L261.2 71.06L261.4 71.13L261.6 71.2L261.8 71.27L262 71.34L262.2 71.41L262.4 71.47L262.6 71.53L262.8 71.6L263 71.66L263.2 71.71L263.4 71.77L263.6 71.83L263.8 71.88L264 71.94L264.2 72L264.4 72.05L264.6 72.11L264.8 72.16L265 72.22L265.2 72.27L265.4 72.32L265.6 72.37L265.8 72.42L266 72.47L266.2 72.51L266.4 72.56L266.6 72.6L266.8 72.64L267 72.67L267.2 72.7L267.4 72.73L267.6 72.76L267.8 72.78L268 72.8L268.2 72.82L268.4 72.83L268.6 72.85L268.8 72.86L269 72.88L269.2 72.89L269.4 72.91L269.6 72.92L269.8 72.93L270 72.95L270.2 72.96L270.4 72.97L270.6 72.97L270.8 72.98L271 72.99L271.2 72.99L271.4 73L271.6 73L271.8 73L272 73L272.2 72.99L272.4 72.97L272.6 72.96L272.8 72.93L273 72.9L273.2 72.87L273.4 72.84L273.6 72.8L273.8 72.75L274 72.71L274.2 72.66L274.4 72.61L274.6 72.56L274.8 72.5L275 72.44L275.2 72.39L275.4 72.33L275.6 72.27L275.8 72.2L276 72.12L276.2 72.03L276.4 71.94L276.6 71.83L276.8 71.72L277 71.59L277.2 71.47L277.4 71.33L277.6 71.19L277.8 71.05L278 70.89L278.2 70.74L278.4 70.58L278.6 70.42L278.8 70.24L279 70.05L279.2 69.85L279.4 69.63L279.6 69.4L279.8 69.15L280 68.9L280.2 68.63L280.4 68.35L280.6 68.06L280.8 67.76L281 67.44L281.2 67.1L281.4 66.73L281.6 66.34L281.8 65.92L282 65.48L282.2 65.02L282.4 64.54L282.6 64.04L282.8 63.53L283 63L283.2 62.44L283.4 61.83L283.6 61.18L283.8 60.51L284 59.8L284.2 59.09L284.4 58.36L284.6 57.63L284.8 56.87L285 56.08L285.2 55.27L285.4 54.44L285.6 53.61L285.8 52.78L286 51.96L286.2 51.16L286.4 50.38L286.6 49.63L286.8 48.87L287 48.1L287.2 47.33L287.4 46.57L287.6 45.82L287.8 45.09L288 44.39L288.2 43.72L288.4 43.1L288.6 42.52L288.8 42L289 41.5L289.2 40.98L289.4 40.46L289.6 39.95L289.8 39.47L290 39.03L290.2 38.66L290.4 38.35L290.6 38.13L290.8 38.02L291 38.05L291.2 38.45L291.4 39.14L291.6 40" fill="none" stroke="#0000ff" stroke-width="1.7" stroke-linejoin="round"/>
<path d="M291.6 40L291.8 41.53L292 43.81L292.2 46.25L292.4 49.14L292.6 52.19L292.8 55L293 57.45L293.2 59.74L293.4 62L293.6 64.34L293.8 66.7L294 68.99L294.2 71.07L294.4 72.85L294.6 74.4L294.8 75.8L295 77.14L295.2 78.52L295.4 80L295.6 81.71L295.8 83.59L296 85.46L296.2 87.16L296.4 88.5L296.6 89.64L296.8 90.75L297 91.74L297.2 92.51L297.4 92.94L297.6 92.97L297.8 92.71" fill="none" stroke="#0000ff" stroke-width="0.6"/>
<path d="M291.5 39.55h0M291.8 41.53h0M292.1 45h0M292.4 49.14h0M292.7 53.65h0M293 57.45h0M293.3 60.87h0M293.6 64.34h0M293.9 67.86h0M294.2 71.07h0M294.5 73.65h0M294.8 75.8h0M295.1 77.82h0M295.4 80h0M295.7 82.64h0M296 85.46h0M296.3 87.88h0M296.6 89.64h0M296.9 91.27h0M297.2 92.51h0M297.5 93h0" fill="none" stroke="#0000ff" stroke-width="1.5" stroke-linecap="round"/>
<path d="M297.8 92.71L298 92.23L298.2 91.59L298.4 90.81L298.6 89.95L298.8 88.93L299 87.24L299.2 85.09L299.4 82.83L299.6 80.81L299.8 79.29L300 77.98L300.2 76.77L300.4 75.64L300.6 74.57L300.8 73.54L301 72.52L301.2 71.48L301.4 70.46L301.6 69.46L301.8 68.48L302 67.52L302.2 66.59L302.4 65.69L302.6 64.83L302.8 64L303 63.22L303.2 62.49L303.4 61.79L303.6 61.11L303.8 60.44L304 59.77L304.2 59.08L304.4 58.37L304.6 57.62L304.8 56.82L305 56L305.2 55.16L305.4 54.33L305.6 53.51L305.8 52.73L306 52L306.2 51.32L306.4 50.68L306.6 50.06L306.8 49.46L307 48.88L307.2 48.31L307.4 47.73L307.6 47.16L307.8 46.57L308 45.96L308.2 45.33L308.4 44.66L308.6 43.97L308.8 43.24L309 42.5L309.2 41.74L309.4 40.98L309.6 40.22L309.8 39.46L310 38.73L310.2 38.01L310.4 37.33L310.6 36.68L310.8 36.06L311 35.47L311.2 34.89L311.4 34.32L311.6 33.75L311.8 33.18L312 32.6L312.2 32L312.4 31.38L312.6 30.75L312.8 30.1L313 29.45L313.2 28.8L313.4 28.15L313.6 27.51L313.8 26.89L314 26.29L314.2 25.71L314.4 25.15L314.6 24.59L314.8 24.04L315 23.5L315.2 22.97L315.4 22.45L315.6 21.94L315.8 21.44L316 20.97L316.2 20.5L316.4 20.04L316.6 19.59L316.8 19.15L317 18.7L317.2 18.27L317.4 17.84L317.6 17.42L317.8 17.01L318 16.62L318.2 16.23L318.4 15.85L318.6 15.49L318.8 15.15L319 14.82L319.2 14.5L319.4 14.2L319.6 13.9L319.8 13.6L320 13.31" fill="none" stroke="#0000ff" stroke-width="1.4"/>
<path d="M319.2 14.5L319.4 14.2L319.6 13.9L319.8 13.6L320 13.31L320.2 13.03L320.4 12.76L320.6 12.5L320.8 12.25L321 12L321.2 11.78L321.4 11.56L321.6 11.36L321.8 11.17L322 11L322.2 10.84L322.4 10.68L322.6 10.53L322.8 10.38L323 10.24L323.2 10.1L323.4 9.97L323.6 9.85L323.8 9.73L324 9.62L324.2 9.52L324.4 9.43L324.6 9.34L324.8 9.27L325 9.2L325.2 9.14L325.4 9.08L325.6 9.02L325.8 8.96L326 8.9L326.2 8.85L326.4 8.8L326.6 8.74L326.8 8.7L327 8.65L327.2 8.6L327.4 8.56L327.6 8.52L327.8 8.48L328 8.44L328.2 8.4L328.4 8.37L328.6 8.34L328.8 8.31L329 8.29L329.2 8.26L329.4 8.24L329.6 8.23L329.8 8.21L330 8.2L330.2 8.19L330.4 8.18L330.6 8.17L330.8 8.16L331 8.15L331.2 8.14L331.4 8.13L331.6 8.12L331.8 8.12L332 8.11L332.2 8.1L332.4 8.09L332.6 8.08L332.8 8.08L333 8.07L333.2 8.06L333.4 8.06L333.6 8.05L333.8 8.05L334 8.04L334.2 8.04L334.4 8.03L334.6 8.03L334.8 8.02L335 8.02L335.2 8.01L335.4 8.01L335.6 8.01L335.8 8.01L336 8L336.2 8L336.4 8L336.6 8L336.8 8L337 8L337.2 8L337.4 8L337.6 8.01L337.8 8.02L338 8.03L338.2 8.04L338.4 8.05L338.6 8.06L338.8 8.08L339 8.1L339.2 8.12L339.4 8.14L339.6 8.16L339.8 8.18L340 8.21L340.2 8.23L340.4 8.26L340.6 8.29L340.8 8.32L341 8.35L341.2 8.38L341.4 8.41L341.6 8.44L341.8 8.47L342 8.5L342.2 8.54L342.4 8.57L342.6 8.6L342.8 8.64L343 8.67L343.2 8.7L343.4 8.74L343.6 8.77L343.8 8.81L344 8.84L344.2 8.87L344.4 8.9L344.6 8.94L344.8 8.97L345 9L345.2 9.03L345.4 9.06L345.6 9.09L345.8 9.13L346 9.16L346.2 9.19L346.4 9.23L346.6 9.26L346.8 9.29L347 9.33L347.2 9.36L347.4 9.4L347.6 9.44L347.8 9.47L348 9.51L348.2 9.54L348.4 9.58L348.6 9.62L348.8 9.66L349 9.7L349.2 9.74L349.4 9.78L349.6 9.81L349.8 9.86L350 9.9L350.2 9.94L350.4 9.98L350.6 10.02L350.8 10.06L351 10.1L351.2 10.15L351.4 10.19L351.6 10.23L351.8 10.28L352 10.32L352.2 10.36L352.4 10.41L352.6 10.45L352.8 10.5L353 10.55L353.2 10.59L353.4 10.64L353.6 10.68L353.8 10.73L354 10.78L354.2 10.83L354.4 10.88L354.6 10.92L354.8 10.97L355 11.02L355.2 11.07L355.4 11.12L355.6 11.17L355.8 11.22L356 11.27L356.2 11.32L356.4 11.37" fill="none" stroke="#0000ff" stroke-width="1.7"/>
<path d="M215 51.8L215.2 51.85L215.4 51.9L215.6 51.95L215.8 52.01L216 52.06L216.2 52.11L216.4 52.16L216.6 52.21L216.8 52.27L217 52.32L217.2 52.37L217.4 52.42L217.6 52.48L217.8 52.53L218 52.58L218.2 52.64L218.4 52.69L218.6 52.74L218.8 52.8L219 52.85L219.2 52.91L219.4 52.96L219.6 53.01L219.8 53.07L220 53.12L220.2 53.18L220.4 53.23L220.6 53.29L220.8 53.34L221 53.4L221.2 53.46L221.4 53.51L221.6 53.57L221.8 53.62L222 53.68L222.2 53.73L222.4 53.79L222.6 53.85L222.8 53.9L223 53.96L223.2 54.01L223.4 54.07L223.6 54.13L223.8 54.18L224 54.24L224.2 54.3L224.4 54.36L224.6 54.41L224.8 54.47L225 54.53L225.2 54.59L225.4 54.65L225.6 54.7L225.8 54.76L226 54.82L226.2 54.88L226.4 54.94L226.6 55L226.8 55.06L227 55.12L227.2 55.19L227.4 55.25L227.6 55.31L227.8 55.37L228 55.44L228.2 55.5L228.4 55.56L228.6 55.63L228.8 55.69L229 55.76L229.2 55.83L229.4 55.9L229.6 55.96L229.8 56.03L230 56.1L230.2 56.17L230.4 56.24L230.6 56.31L230.8 56.38L231 56.45L231.2 56.52L231.4 56.59L231.6 56.67L231.8 56.74L232 56.81L232.2 56.88L232.4 56.96L232.6 57.03L232.8 57.1L233 57.17L233.2 57.25L233.4 57.32L233.6 57.39L233.8 57.47L234 57.54L234.2 57.61L234.4 57.68L234.6 57.76L234.8 57.83L235 57.9L235.2 57.97L235.4 58.04L235.6 58.11L235.8 58.18L236 58.25L236.2 58.32L236.4 58.39L236.6 58.46L236.8 58.53L237 58.6L237.2 58.67L237.4 58.73L237.6 58.8L237.8 58.87L238 58.94L238.2 59.01L238.4 59.08L238.6 59.15L238.8 59.22L239 59.29L239.2 59.36L239.4 59.43L239.6 59.5L239.8 59.58L240 59.65L240.2 59.72L240.4 59.8L240.6 59.87L240.8 59.95L241 60.03L241.2 60.11L241.4 60.19L241.6 60.27L241.8 60.35L242 60.43L242.2 60.51L242.4 60.6L242.6 60.69L242.8 60.77L243 60.86L243.2 60.95L243.4 61.05L243.6 61.14L243.8 61.23L244 61.33L244.2 61.42L244.4 61.52L244.6 61.62L244.8 61.72L245 61.82L245.2 61.92L245.4 62.02L245.6 62.12L245.8 62.23L246 62.33L246.2 62.44L246.4 62.55L246.6 62.65L246.8 62.76L247 62.87L247.2 62.98L247.4 63.09L247.6 63.2L247.8 63.32L248 63.43L248.2 63.54L248.4 63.66L248.6 63.77L248.8 63.89L249 64.01L249.2 64.12L249.4 64.24L249.6 64.36L249.8 64.48L250 64.6L250.2 64.72L250.4 64.85L250.6 64.98L250.8 65.11L251 65.24L251.2 65.38L251.4 65.52L251.6 65.66L251.8 65.81L252 65.95L252.2 66.1L252.4 66.25L252.6 66.4L252.8 66.55L253 66.7L253.2 66.86L253.4 67.01L253.6 67.16L253.8 67.32L254 67.47L254.2 67.62L254.4 67.78L254.6 67.93L254.8 68.08L255 68.23L255.2 68.38L255.4 68.53L255.6 68.67L255.8 68.81L256 68.95L256.2 69.09L256.4 69.23L256.6 69.36L256.8 69.49L257 69.62L257.2 69.74L257.4 69.86L257.6 69.98L257.8 70.09L258 70.2L258.2 70.3L258.4 70.41L258.6 70.51L258.8 70.61L259 70.71L259.2 70.8L259.4 70.89L259.6 70.99L259.8 71.08L260 71.17L260.2 71.26L260.4 71.34L260.6 71.43L260.8 71.51L261 71.6L261.2 71.68L261.4 71.76L261.6 71.85L261.8 71.93L262 72.01L262.2 72.09L262.4 72.17L262.6 72.25L262.8 72.33L263 72.41L263.2 72.48L263.4 72.56L263.6 72.64L263.8 72.72L264 72.8L264.2 72.88L264.4 72.96L264.6 73.04L264.8 73.11L265 73.19L265.2 73.27L265.4 73.34L265.6 73.42L265.8 73.5L266 73.57L266.2 73.65L266.4 73.72L266.6 73.79L266.8 73.87L267 73.94L267.2 74.01L267.4 74.09L267.6 74.16L267.8 74.23L268 74.3L268.2 74.37L268.4 74.44L268.6 74.51L268.8 74.58L269 74.65L269.2 74.72L269.4 74.79L269.6 74.86L269.8 74.93L270 75L270.2 75.07L270.4 75.14L270.6 75.21L270.8 75.28L271 75.35L271.2 75.42L271.4 75.49L271.6 75.56L271.8 75.63L272 75.7L272.2 75.77L272.4 75.84L272.6 75.9L272.8 75.96L273 76.03L273.2 76.09L273.4 76.14L273.6 76.2L273.8 76.25L274 76.3L274.2 76.35L274.4 76.4L274.6 76.45L274.8 76.5L275 76.55L275.2 76.61L275.4 76.66L275.6 76.71L275.8 76.76L276 76.8L276.2 76.85L276.4 76.89L276.6 76.93L276.8 76.97L277 77L277.2 77.03L277.4 77.05L277.6 77.07L277.8 77.09L278 77.1L278.2 77.1L278.4 77.1L278.6 77.08L278.8 77.06L279 77.03L279.2 77L279.4 76.96L279.6 76.91L279.8 76.85L280 76.79L280.2 76.73L280.4 76.66L280.6 76.59L280.8 76.51L281 76.43L281.2 76.35L281.4 76.26L281.6 76.18L281.8 76.09L282 76L282.2 75.9L282.4 75.79L282.6 75.67L282.8 75.53L283 75.38L283.2 75.21L283.4 75.04L283.6 74.85L283.8 74.66L284 74.45L284.2 74.24L284.4 74.02L284.6 73.79L284.8 73.56L285 73.32L285.2 73.07L285.4 72.83L285.6 72.57L285.8 72.32L286 72.06L286.2 71.8L286.4 71.53L286.6 71.24L286.8 70.93L287 70.61L287.2 70.27L287.4 69.92L287.6 69.56L287.8 69.19L288 68.8L288.2 68.41L288.4 68.01L288.6 67.61L288.8 67.21L289 66.8L289.2 66.39L289.4 65.98L289.6 65.58L289.8 65.17L290 64.78L290.2 64.38L290.4 64L290.6 63.62L290.8 63.24L291 62.86L291.2 62.48L291.4 62.1L291.6 61.71L291.8 61.33L292 60.94L292.2 60.56L292.4 60.17L292.6 59.78L292.8 59.39L293 58.99L293.2 58.6L293.4 58.2L293.6 57.8L293.8 57.4L294 57L294.2 56.59L294.4 56.19L294.6 55.78L294.8 55.37L295 54.96L295.2 54.55L295.4 54.13L295.6 53.71L295.8 53.29L296 52.87L296.2 52.43L296.4 52L296.6 51.55L296.8 51.09L297 50.62L297.2 50.13L297.4 49.65L297.6 49.16L297.8 48.67L298 48.19L298.2 47.71L298.4 47.26L298.6 46.82L298.8 46.4L299 46L299.2 45.6L299.4 45.19L299.6 44.76L299.8 44.32L300 43.89L300.2 43.46L300.4 43.06L300.6 42.67L300.8 42.32L301 42.01L301.2 41.74L301.4 41.53L301.6 41.39L301.8 41.31L302 41.31L302.2 41.4L302.4 41.54L302.6 41.73L302.8 41.94L303 42.15L303.2 42.33L303.4 42.46L303.6 42.53L303.8 42.59L304 42.65L304.2 42.7L304.4 42.74L304.6 42.77L304.8 42.79L305 42.8L305.2 42.75L305.4 42.62L305.6 42.42L305.8 42.15L306 41.84L306.2 41.48L306.4 41.1L306.6 40.7L306.8 40.3L307 39.9L307.2 39.52L307.4 39.16L307.6 38.84L307.8 38.53L308 38.21L308.2 37.89L308.4 37.58L308.6 37.26L308.8 36.93L309 36.61L309.2 36.29L309.4 35.96L309.6 35.64L309.8 35.31L310 34.98L310.2 34.66L310.4 34.33L310.6 34L310.8 33.66L311 33.33L311.2 33L311.4 32.67L311.6 32.33L311.8 32L312 31.66L312.2 31.32L312.4 30.98L312.6 30.64L312.8 30.29L313 29.95L313.2 29.61L313.4 29.26L313.6 28.92L313.8 28.57L314 28.22L314.2 27.88L314.4 27.53L314.6 27.19L314.8 26.84L315 26.5L315.2 26.16L315.4 25.81L315.6 25.47L315.8 25.13L316 24.79L316.2 24.44L316.4 24.1L316.6 23.76L316.8 23.41L317 23.07L317.2 22.73L317.4 22.39L317.6 22.04L317.8 21.7L318 21.36L318.2 21.01L318.4 20.67L318.6 20.33L318.8 19.97L319 19.61L319.2 19.23L319.4 18.85L319.6 18.47L319.8 18.08L320 17.7L320.2 17.32L320.4 16.95L320.6 16.59L320.8 16.24L321 15.9L321.2 15.58L321.4 15.28L321.6 14.99L321.8 14.73L322 14.5L322.2 14.28L322.4 14.07L322.6 13.86L322.8 13.66L323 13.46L323.2 13.26L323.4 13.08L323.6 12.89L323.8 12.72L324 12.55L324.2 12.39L324.4 12.23L324.6 12.09L324.8 11.95L325 11.82L325.2 11.7L325.4 11.58L325.6 11.48L325.8 11.38L326 11.3L326.2 11.22L326.4 11.15L326.6 11.07L326.8 11L327 10.93L327.2 10.87L327.4 10.8L327.6 10.74L327.8 10.68L328 10.62L328.2 10.57L328.4 10.52L328.6 10.47L328.8 10.42L329 10.37L329.2 10.32L329.4 10.28L329.6 10.24L329.8 10.2L330 10.16L330.2 10.13L330.4 10.09L330.6 10.06L330.8 10.03L331 10L331.2 9.97L331.4 9.94L331.6 9.91L331.8 9.88L332 9.86L332.2 9.83L332.4 9.8L332.6 9.77L332.8 9.75L333 9.72L333.2 9.7L333.4 9.67L333.6 9.65L333.8 9.63L334 9.61L334.2 9.59L334.4 9.57L334.6 9.55L334.8 9.54L335 9.53L335.2 9.52L335.4 9.51L335.6 9.5L335.8 9.5L336 9.5L336.2 9.5L336.4 9.5L336.6 9.5L336.8 9.51L337 9.51L337.2 9.51L337.4 9.52L337.6 9.52L337.8 9.53L338 9.54L338.2 9.54L338.4 9.55L338.6 9.56L338.8 9.57L339 9.58L339.2 9.59L339.4 9.6L339.6 9.61L339.8 9.62L340 9.63L340.2 9.64L340.4 9.66L340.6 9.67L340.8 9.68L341 9.7L341.2 9.71L341.4 9.72L341.6 9.74L341.8 9.75L342 9.77L342.2 9.78L342.4 9.8L342.6 9.81L342.8 9.83L343 9.84L343.2 9.86L343.4 9.87L343.6 9.89L343.8 9.91L344 9.92L344.2 9.94L344.4 9.95L344.6 9.97L344.8 9.98L345 10L345.2 10.02L345.4 10.03L345.6 10.05L345.8 10.07L346 10.08L346.2 10.1L346.4 10.12L346.6 10.14L346.8 10.16L347 10.18L347.2 10.2L347.4 10.22L347.6 10.25L347.8 10.27L348 10.29L348.2 10.31L348.4 10.34L348.6 10.36L348.8 10.39L349 10.41L349.2 10.44L349.4 10.46L349.6 10.49L349.8 10.51L350 10.54L350.2 10.57L350.4 10.6L350.6 10.62L350.8 10.65L351 10.68L351.2 10.71L351.4 10.74L351.6 10.77L351.8 10.8L352 10.83L352.2 10.86L352.4 10.89L352.6 10.92L352.8 10.96L353 10.99L353.2 11.02L353.4 11.05L353.6 11.09L353.8 11.12L354 11.15L354.2 11.19L354.4 11.22L354.6 11.26L354.8 11.29L355 11.33L355.2 11.36L355.4 11.4L355.6 11.43L355.8 11.47L356 11.51L356.2 11.54L356.4 11.58" fill="none" stroke="#800080" stroke-width="0.8"/>
<path d="M215 51.8L215.2 51.85L215.4 51.9L215.6 51.95L215.8 52.01L216 52.06L216.2 52.11L216.4 52.16L216.6 52.21L216.8 52.27L217 52.32L217.2 52.37L217.4 52.42L217.6 52.48L217.8 52.53L218 52.58L218.2 52.64L218.4 52.69L218.6 52.74L218.8 52.8L219 52.85L219.2 52.91L219.4 52.96L219.6 53.01L219.8 53.07L220 53.12L220.2 53.18L220.4 53.23L220.6 53.29L220.8 53.34L221 53.4L221.2 53.46L221.4 53.51L221.6 53.57L221.8 53.62L222 53.68L222.2 53.73L222.4 53.79L222.6 53.85L222.8 53.9L223 53.96L223.2 54.01L223.4 54.07L223.6 54.13L223.8 54.18L224 54.24L224.2 54.3L224.4 54.36L224.6 54.41L224.8 54.47L225 54.53L225.2 54.59L225.4 54.65L225.6 54.7L225.8 54.76L226 54.82L226.2 54.88L226.4 54.94L226.6 55L226.8 55.06L227 55.12L227.2 55.19L227.4 55.25L227.6 55.31L227.8 55.37L228 55.44L228.2 55.5L228.4 55.56L228.6 55.63L228.8 55.69L229 55.76L229.2 55.83L229.4 55.9L229.6 55.96L229.8 56.03L230 56.1L230.2 56.17L230.4 56.24L230.6 56.31L230.8 56.38L231 56.45L231.2 56.52L231.4 56.59L231.6 56.67L231.8 56.74L232 56.81L232.2 56.88L232.4 56.96L232.6 57.03L232.8 57.1L233 57.17L233.2 57.25L233.4 57.32L233.6 57.39L233.8 57.47L234 57.54L234.2 57.61L234.4 57.68L234.6 57.76L234.8 57.83L235 57.9L235.2 57.97L235.4 58.04L235.6 58.11L235.8 58.18L236 58.25L236.2 58.32L236.4 58.39L236.6 58.46L236.8 58.52L237 58.59L237.2 58.66L237.4 58.73L237.6 58.79L237.8 58.86L238 58.93L238.2 59L238.4 59.06L238.6 59.13L238.8 59.2L239 59.27L239.2 59.34L239.4 59.41L239.6 59.49L239.8 59.56L240 59.63L240.2 59.71L240.4 59.78L240.6 59.86L240.8 59.93L241 60.01L241.2 60.09L241.4 60.17L241.6 60.26L241.8 60.34L242 60.42L242.2 60.51L242.4 60.6L242.6 60.69L242.8 60.78L243 60.88L243.2 60.97L243.4 61.07L243.6 61.17L243.8 61.27L244 61.38L244.2 61.48L244.4 61.59L244.6 61.7L244.8 61.81L245 61.92L245.2 62.03L245.4 62.15L245.6 62.26L245.8 62.38L246 62.5L246.2 62.61L246.4 62.73L246.6 62.85L246.8 62.98L247 63.1L247.2 63.22L247.4 63.35L247.6 63.47L247.8 63.6L248 63.72L248.2 63.85L248.4 63.97L248.6 64.1L248.8 64.23L249 64.36L249.2 64.49L249.4 64.61L249.6 64.74L249.8 64.87L250 65L250.2 65.13L250.4 65.26L250.6 65.4L250.8 65.53L251 65.67L251.2 65.81L251.4 65.96L251.6 66.1L251.8 66.25L252 66.39L252.2 66.54L252.4 66.69L252.6 66.84L252.8 66.99L253 67.14L253.2 67.3L253.4 67.45L253.6 67.6L253.8 67.76L254 67.91L254.2 68.06L254.4 68.22L254.6 68.37L254.8 68.52L255 68.68L255.2 68.83L255.4 68.98L255.6 69.13L255.8 69.28L256 69.42L256.2 69.57L256.4 69.71L256.6 69.86L256.8 70L257 70.14L257.2 70.27L257.4 70.41L257.6 70.54L257.8 70.67L258 70.8L258.2 70.93L258.4 71.05L258.6 71.17L258.8 71.29L259 71.41L259.2 71.53L259.4 71.64L259.6 71.76L259.8 71.87L260 71.98L260.2 72.1L260.4 72.21L260.6 72.32L260.8 72.43L261 72.54L261.2 72.65L261.4 72.76L261.6 72.86L261.8 72.97L262 73.08L262.2 73.19L262.4 73.3L262.6 73.41L262.8 73.52L263 73.63L263.2 73.74L263.4 73.86L263.6 73.97L263.8 74.08L264 74.2L264.2 74.32L264.4 74.43L264.6 74.55L264.8 74.67L265 74.79L265.2 74.91L265.4 75.03L265.6 75.15L265.8 75.27L266 75.39L266.2 75.51L266.4 75.63L266.6 75.75L266.8 75.87L267 75.99L267.2 76.11L267.4 76.24L267.6 76.36L267.8 76.48L268 76.6L268.2 76.72L268.4 76.84L268.6 76.96L268.8 77.08L269 77.2L269.2 77.32L269.4 77.44L269.6 77.56L269.8 77.68L270 77.8L270.2 77.92L270.4 78.04L270.6 78.16L270.8 78.28L271 78.4L271.2 78.52L271.4 78.64L271.6 78.76L271.8 78.88L272 79L272.2 79.11L272.4 79.23L272.6 79.35L272.8 79.47L273 79.59L273.2 79.71L273.4 79.83L273.6 79.95L273.8 80.06L274 80.18L274.2 80.3L274.4 80.41L274.6 80.52L274.8 80.64L275 80.75L275.2 80.86L275.4 80.97L275.6 81.08L275.8 81.19L276 81.3L276.2 81.41L276.4 81.52L276.6 81.63L276.8 81.74L277 81.85L277.2 81.96L277.4 82.07L277.6 82.18L277.8 82.29L278 82.4L278.2 82.5L278.4 82.6L278.6 82.7L278.8 82.8L279 82.9L279.2 82.99L279.4 83.07L279.6 83.15L279.8 83.23L280 83.3L280.2 83.37L280.4 83.44L280.6 83.51L280.8 83.59L281 83.66L281.2 83.73L281.4 83.8L281.6 83.86L281.8 83.92L282 83.97L282.2 84.01L282.4 84.05L282.6 84.08L282.8 84.09L283 84.1L283.2 84.1L283.4 84.08L283.6 84.07L283.8 84.04L284 84.01L284.2 83.97L284.4 83.93L284.6 83.88L284.8 83.83L285 83.78L285.2 83.73L285.4 83.67L285.6 83.61L285.8 83.56L286 83.5L286.2 83.44L286.4 83.37L286.6 83.29L286.8 83.21L287 83.12L287.2 83.03L287.4 82.93L287.6 82.82L287.8 82.72L288 82.6L288.2 82.49L288.4 82.37L288.6 82.25L288.8 82.12L289 82L289.2 81.87L289.4 81.75L289.6 81.62L289.8 81.48L290 81.35L290.2 81.2L290.4 81.05L290.6 80.9L290.8 80.73L291 80.56L291.2 80.37L291.4 80.17L291.6 79.96L291.8 79.74L292 79.5L292.2 79.23L292.4 78.9L292.6 78.53L292.8 78.12L293 77.67L293.2 77.19L293.4 76.69L293.6 76.17L293.8 75.64L294 75.1L294.2 74.56L294.4 74.02L294.6 73.5L294.8 72.99L295 72.5L295.2 72.02L295.4 71.55L295.6 71.08L295.8 70.6L296 70.13L296.2 69.66L296.4 69.18L296.6 68.7L296.8 68.22L297 67.74L297.2 67.26L297.4 66.77L297.6 66.27L297.8 65.78L298 65.28L298.2 64.77L298.4 64.26L298.6 63.74L298.8 63.21L299 62.66L299.2 62.1L299.4 61.54L299.6 60.96L299.8 60.38L300 59.79L300.2 59.2L300.4 58.61L300.6 58.02L300.8 57.43L301 56.85L301.2 56.27L301.4 55.69L301.6 55.13L301.8 54.57L302 54.03L302.2 53.5L302.4 52.98L302.6 52.48L302.8 52L303 51.53L303.2 51.07L303.4 50.62L303.6 50.18L303.8 49.74L304 49.31L304.2 48.88L304.4 48.46L304.6 48.05L304.8 47.64L305 47.24L305.2 46.85L305.4 46.45L305.6 46.07L305.8 45.68L306 45.3L306.2 44.93L306.4 44.55L306.6 44.18L306.8 43.82L307 43.46L307.2 43.11L307.4 42.76L307.6 42.43L307.8 42.09L308 41.77L308.2 41.44L308.4 41.12L308.6 40.8L308.8 40.48L309 40.15L309.2 39.83L309.4 39.51L309.6 39.18L309.8 38.85L310 38.51L310.2 38.17L310.4 37.83L310.6 37.47L310.8 37.12L311 36.75L311.2 36.39L311.4 36.03L311.6 35.66L311.8 35.29L312 34.92L312.2 34.55L312.4 34.18L312.6 33.81L312.8 33.44L313 33.08L313.2 32.71L313.4 32.36L313.6 32L313.8 31.65L314 31.3L314.2 30.96L314.4 30.62L314.6 30.28L314.8 29.94L315 29.6L315.2 29.26L315.4 28.93L315.6 28.59L315.8 28.25L316 27.91L316.2 27.57L316.4 27.23L316.6 26.88L316.8 26.53L317 26.18L317.2 25.82L317.4 25.46L317.6 25.08L317.8 24.71L318 24.33L318.2 23.95L318.4 23.57L318.6 23.18L318.8 22.8L319 22.41L319.2 22.03L319.4 21.65L319.6 21.28L319.8 20.9L320 20.54L320.2 20.18L320.4 19.82L320.6 19.46L320.8 19.09L321 18.71L321.2 18.33L321.4 17.95L321.6 17.57L321.8 17.2L322 16.83L322.2 16.47L322.4 16.11L322.6 15.77L322.8 15.45L323 15.14L323.2 14.84L323.4 14.57L323.6 14.32L323.8 14.1L324 13.9L324.2 13.71L324.4 13.53L324.6 13.35L324.8 13.17L325 13.01L325.2 12.85L325.4 12.69L325.6 12.54L325.8 12.4L326 12.27L326.2 12.14L326.4 12.02L326.6 11.91L326.8 11.81L327 11.71L327.2 11.62L327.4 11.54L327.6 11.46L327.8 11.39L328 11.32L328.2 11.25L328.4 11.19L328.6 11.12L328.8 11.06L329 11L329.2 10.95L329.4 10.89L329.6 10.84L329.8 10.79L330 10.75L330.2 10.7L330.4 10.66L330.6 10.63L330.8 10.59L331 10.56L331.2 10.54L331.4 10.52L331.6 10.5L331.8 10.48L332 10.47L332.2 10.46L332.4 10.44L332.6 10.43L332.8 10.41L333 10.4L333.2 10.39L333.4 10.38L333.6 10.37L333.8 10.36L334 10.35L334.2 10.34L334.4 10.33L334.6 10.32L334.8 10.32L335 10.31L335.2 10.31L335.4 10.3L335.6 10.3L335.8 10.3L336 10.3L336.2 10.3L336.4 10.3L336.6 10.3L336.8 10.3L337 10.3L337.2 10.3L337.4 10.31L337.6 10.31L337.8 10.31L338 10.31L338.2 10.32L338.4 10.32L338.6 10.32L338.8 10.32L339 10.33L339.2 10.33L339.4 10.34L339.6 10.34L339.8 10.34L340 10.35L340.2 10.35L340.4 10.36L340.6 10.36L340.8 10.37L341 10.37L341.2 10.38L341.4 10.38L341.6 10.39L341.8 10.39L342 10.4L342.2 10.41L342.4 10.41L342.6 10.42L342.8 10.42L343 10.43L343.2 10.44L343.4 10.44L343.6 10.45L343.8 10.46L344 10.46L344.2 10.47L344.4 10.48L344.6 10.49L344.8 10.49L345 10.5L345.2 10.51L345.4 10.52L345.6 10.52L345.8 10.53L346 10.54L346.2 10.56L346.4 10.57L346.6 10.58L346.8 10.59L347 10.61L347.2 10.62L347.4 10.64L347.6 10.65L347.8 10.67L348 10.68L348.2 10.7L348.4 10.72L348.6 10.74L348.8 10.76L349 10.78L349.2 10.8L349.4 10.82L349.6 10.84L349.8 10.86L350 10.88L350.2 10.9L350.4 10.93L350.6 10.95L350.8 10.97L351 11L351.2 11.02L351.4 11.05L351.6 11.07L351.8 11.1L352 11.12L352.2 11.15L352.4 11.18L352.6 11.21L352.8 11.23L353 11.26L353.2 11.29L353.4 11.32L353.6 11.35L353.8 11.38L354 11.41L354.2 11.44L354.4 11.47L354.6 11.5L354.8 11.53L355 11.56L355.2 11.59L355.4 11.62L355.6 11.65L355.8 11.69L356 11.72L356.2 11.75L356.4 11.78" fill="none" stroke="#222" stroke-width="1.1"/>
<path d="M215 51.8L215.2 51.85L215.4 51.9L215.6 51.95L215.8 52.01L216 52.06L216.2 52.11L216.4 52.16L216.6 52.21L216.8 52.27L217 52.32L217.2 52.37L217.4 52.42L217.6 52.48L217.8 52.53L218 52.58L218.2 52.64L218.4 52.69L218.6 52.74L218.8 52.8L219 52.85L219.2 52.91L219.4 52.96L219.6 53.01L219.8 53.07L220 53.12L220.2 53.18L220.4 53.23L220.6 53.29L220.8 53.34L221 53.4L221.2 53.46L221.4 53.51L221.6 53.57L221.8 53.62L222 53.68L222.2 53.73L222.4 53.79L222.6 53.85L222.8 53.9L223 53.96L223.2 54.01L223.4 54.07L223.6 54.13L223.8 54.18L224 54.24L224.2 54.3L224.4 54.36L224.6 54.41L224.8 54.47L225 54.53L225.2 54.59L225.4 54.65L225.6 54.7L225.8 54.76L226 54.82L226.2 54.88L226.4 54.94L226.6 55L226.8 55.06L227 55.12L227.2 55.19L227.4 55.25L227.6 55.31L227.8 55.37L228 55.44L228.2 55.5L228.4 55.56L228.6 55.63L228.8 55.69L229 55.76L229.2 55.83L229.4 55.9L229.6 55.96L229.8 56.03L230 56.1L230.2 56.17L230.4 56.24L230.6 56.31L230.8 56.38L231 56.45L231.2 56.52L231.4 56.59L231.6 56.67L231.8 56.74L232 56.81L232.2 56.88L232.4 56.96L232.6 57.03L232.8 57.1L233 57.17L233.2 57.25L233.4 57.32L233.6 57.39L233.8 57.47L234 57.54L234.2 57.61L234.4 57.68L234.6 57.76L234.8 57.83L235 57.9L235.2 57.97L235.4 58.04L235.6 58.11L235.8 58.18L236 58.25L236.2 58.32L236.4 58.39L236.6 58.46L236.8 58.53L237 58.59L237.2 58.66L237.4 58.73L237.6 58.8L237.8 58.87L238 58.93L238.2 59L238.4 59.07L238.6 59.14L238.8 59.21L239 59.28L239.2 59.35L239.4 59.42L239.6 59.49L239.8 59.57L240 59.64L240.2 59.71L240.4 59.79L240.6 59.86L240.8 59.94L241 60.02L241.2 60.1L241.4 60.18L241.6 60.26L241.8 60.34L242 60.43L242.2 60.51L242.4 60.6L242.6 60.69L242.8 60.78L243 60.87L243.2 60.96L243.4 61.06L243.6 61.16L243.8 61.25L244 61.35L244.2 61.45L244.4 61.56L244.6 61.66L244.8 61.76L245 61.87L245.2 61.98L245.4 62.08L245.6 62.19L245.8 62.3L246 62.41L246.2 62.53L246.4 62.64L246.6 62.75L246.8 62.87L247 62.98L247.2 63.1L247.4 63.22L247.6 63.34L247.8 63.46L248 63.58L248.2 63.7L248.4 63.82L248.6 63.94L248.8 64.06L249 64.18L249.2 64.31L249.4 64.43L249.6 64.55L249.8 64.68L250 64.8L250.2 64.93L250.4 65.05L250.6 65.19L250.8 65.32L251 65.46L251.2 65.59L251.4 65.73L251.6 65.88L251.8 66.02L252 66.17L252.2 66.31L252.4 66.46L252.6 66.61L252.8 66.76L253 66.91L253.2 67.07L253.4 67.22L253.6 67.37L253.8 67.52L254 67.68L254.2 67.83L254.4 67.98L254.6 68.13L254.8 68.29L255 68.44L255.2 68.59L255.4 68.74L255.6 68.88L255.8 69.03L256 69.17L256.2 69.32L256.4 69.46L256.6 69.6L256.8 69.73L257 69.87L257.2 70L257.4 70.13L257.6 70.26L257.8 70.38L258 70.5L258.2 70.62L258.4 70.73L258.6 70.85L258.8 70.96L259 71.07L259.2 71.18L259.4 71.29L259.6 71.4L259.8 71.5L260 71.61L260.2 71.71L260.4 71.81L260.6 71.91L260.8 72.01L261 72.11L261.2 72.21L261.4 72.31L261.6 72.41L261.8 72.51L262 72.61L262.2 72.71L262.4 72.8L262.6 72.9L262.8 73L263 73.1L263.2 73.2L263.4 73.3L263.6 73.4L263.8 73.5L264 73.6L264.2 73.7L264.4 73.8L264.6 73.91L264.8 74.01L265 74.11L265.2 74.21L265.4 74.31L265.6 74.42L265.8 74.52L266 74.62L266.2 74.72L266.4 74.82L266.6 74.92L266.8 75.03L267 75.13L267.2 75.23L267.4 75.33L267.6 75.43L267.8 75.53L268 75.63L268.2 75.73L268.4 75.83L268.6 75.93L268.8 76.02L269 76.12L269.2 76.22L269.4 76.31L269.6 76.41L269.8 76.51L270 76.6L270.2 76.69L270.4 76.79L270.6 76.88L270.8 76.98L271 77.07L271.2 77.16L271.4 77.26L271.6 77.35L271.8 77.44L272 77.53L272.2 77.62L272.4 77.71L272.6 77.8L272.8 77.89L273 77.98L273.2 78.06L273.4 78.15L273.6 78.23L273.8 78.32L274 78.4L274.2 78.48L274.4 78.56L274.6 78.65L274.8 78.73L275 78.81L275.2 78.89L275.4 78.98L275.6 79.06L275.8 79.14L276 79.21L276.2 79.29L276.4 79.37L276.6 79.44L276.8 79.51L277 79.58L277.2 79.65L277.4 79.72L277.6 79.78L277.8 79.84L278 79.9L278.2 79.96L278.4 80.02L278.6 80.07L278.8 80.14L279 80.2L279.2 80.26L279.4 80.32L279.6 80.38L279.8 80.43L280 80.49L280.2 80.54L280.4 80.6L280.6 80.65L280.8 80.69L281 80.73L281.2 80.77L281.4 80.81L281.6 80.84L281.8 80.86L282 80.88L282.2 80.89L282.4 80.9L282.6 80.9L282.8 80.89L283 80.87L283.2 80.84L283.4 80.8L283.6 80.75L283.8 80.69L284 80.63L284.2 80.56L284.4 80.49L284.6 80.41L284.8 80.33L285 80.25L285.2 80.16L285.4 80.07L285.6 79.98L285.8 79.89L286 79.8L286.2 79.71L286.4 79.6L286.6 79.49L286.8 79.37L287 79.24L287.2 79.1L287.4 78.95L287.6 78.8L287.8 78.63L288 78.46L288.2 78.28L288.4 78.1L288.6 77.91L288.8 77.71L289 77.5L289.2 77.28L289.4 77.03L289.6 76.77L289.8 76.48L290 76.17L290.2 75.85L290.4 75.52L290.6 75.17L290.8 74.81L291 74.44L291.2 74.06L291.4 73.67L291.6 73.29L291.8 72.89L292 72.5L292.2 72.1L292.4 71.68L292.6 71.24L292.8 70.78L293 70.32L293.2 69.84L293.4 69.35L293.6 68.85L293.8 68.35L294 67.84L294.2 67.33L294.4 66.81L294.6 66.29L294.8 65.78L295 65.26L295.2 64.75L295.4 64.25L295.6 63.75L295.8 63.25L296 62.74L296.2 62.23L296.4 61.72L296.6 61.2L296.8 60.68L297 60.16L297.2 59.63L297.4 59.11L297.6 58.59L297.8 58.06L298 57.54L298.2 57.02L298.4 56.5L298.6 55.98L298.8 55.47L299 54.96L299.2 54.45L299.4 53.95L299.6 53.45L299.8 52.96L300 52.48L300.2 52L300.4 51.53L300.6 51.05L300.8 50.58L301 50.1L301.2 49.63L301.4 49.16L301.6 48.7L301.8 48.24L302 47.78L302.2 47.33L302.4 46.88L302.6 46.44L302.8 46.01L303 45.59L303.2 45.18L303.4 44.77L303.6 44.38L303.8 44L304 43.63L304.2 43.27L304.4 42.92L304.6 42.58L304.8 42.25L305 41.93L305.2 41.61L305.4 41.29L305.6 40.98L305.8 40.67L306 40.36L306.2 40.06L306.4 39.75L306.6 39.44L306.8 39.13L307 38.81L307.2 38.49L307.4 38.17L307.6 37.83L307.8 37.49L308 37.15L308.2 36.81L308.4 36.46L308.6 36.11L308.8 35.76L309 35.41L309.2 35.06L309.4 34.71L309.6 34.36L309.8 34.01L310 33.67L310.2 33.32L310.4 32.99L310.6 32.65L310.8 32.32L311 32L311.2 31.68L311.4 31.37L311.6 31.07L311.8 30.77L312 30.47L312.2 30.18L312.4 29.89L312.6 29.61L312.8 29.32L313 29.04L313.2 28.75L313.4 28.46L313.6 28.17L313.8 27.88L314 27.58L314.2 27.28L314.4 26.97L314.6 26.65L314.8 26.33L315 26L315.2 25.66L315.4 25.31L315.6 24.94L315.8 24.57L316 24.2L316.2 23.81L316.4 23.43L316.6 23.04L316.8 22.65L317 22.26L317.2 21.87L317.4 21.48L317.6 21.1L317.8 20.73L318 20.36L318.2 20L318.4 19.64L318.6 19.28L318.8 18.91L319 18.53L319.2 18.16L319.4 17.78L319.6 17.41L319.8 17.04L320 16.68L320.2 16.33L320.4 15.98L320.6 15.65L320.8 15.33L321 15.02L321.2 14.74L321.4 14.47L321.6 14.22L321.8 14L322 13.79L322.2 13.58L322.4 13.38L322.6 13.18L322.8 12.99L323 12.8L323.2 12.61L323.4 12.43L323.6 12.26L323.8 12.1L324 11.94L324.2 11.78L324.4 11.64L324.6 11.5L324.8 11.37L325 11.25L325.2 11.14L325.4 11.04L325.6 10.95L325.8 10.87L326 10.8L326.2 10.74L326.4 10.68L326.6 10.62L326.8 10.57L327 10.51L327.2 10.46L327.4 10.42L327.6 10.37L327.8 10.33L328 10.29L328.2 10.25L328.4 10.21L328.6 10.17L328.8 10.14L329 10.11L329.2 10.07L329.4 10.04L329.6 10.01L329.8 9.98L330 9.95L330.2 9.92L330.4 9.89L330.6 9.86L330.8 9.83L331 9.8L331.2 9.77L331.4 9.74L331.6 9.71L331.8 9.67L332 9.64L332.2 9.61L332.4 9.58L332.6 9.54L332.8 9.51L333 9.48L333.2 9.45L333.4 9.42L333.6 9.39L333.8 9.36L334 9.34L334.2 9.32L334.4 9.29L334.6 9.27L334.8 9.25L335 9.24L335.2 9.23L335.4 9.21L335.6 9.21L335.8 9.2L336 9.2L336.2 9.2L336.4 9.2L336.6 9.2L336.8 9.2L337 9.21L337.2 9.21L337.4 9.21L337.6 9.22L337.8 9.22L338 9.23L338.2 9.23L338.4 9.24L338.6 9.24L338.8 9.25L339 9.26L339.2 9.27L339.4 9.27L339.6 9.28L339.8 9.29L340 9.3L340.2 9.31L340.4 9.32L340.6 9.33L340.8 9.34L341 9.35L341.2 9.36L341.4 9.37L341.6 9.38L341.8 9.39L342 9.4L342.2 9.42L342.4 9.43L342.6 9.44L342.8 9.45L343 9.47L343.2 9.48L343.4 9.49L343.6 9.5L343.8 9.52L344 9.53L344.2 9.55L344.4 9.56L344.6 9.57L344.8 9.59L345 9.6L345.2 9.61L345.4 9.63L345.6 9.65L345.8 9.66L346 9.68L346.2 9.7L346.4 9.72L346.6 9.74L346.8 9.76L347 9.78L347.2 9.81L347.4 9.83L347.6 9.86L347.8 9.88L348 9.91L348.2 9.94L348.4 9.96L348.6 9.99L348.8 10.02L349 10.05L349.2 10.08L349.4 10.11L349.6 10.15L349.8 10.18L350 10.21L350.2 10.25L350.4 10.28L350.6 10.32L350.8 10.35L351 10.39L351.2 10.43L351.4 10.47L351.6 10.51L351.8 10.54L352 10.58L352.2 10.62L352.4 10.67L352.6 10.71L352.8 10.75L353 10.79L353.2 10.83L353.4 10.88L353.6 10.92L353.8 10.96L354 11.01L354.2 11.05L354.4 11.1L354.6 11.15L354.8 11.19L355 11.24L355.2 11.29L355.4 11.33L355.6 11.38L355.8 11.43L356 11.48L356.2 11.53L356.4 11.58" fill="none" stroke="#ff00ff" stroke-width="1.8"/>
<line x1="215" y1="4" x2="215" y2="119.5" stroke="#c0c0c0" stroke-width="2" />
<line x1="214" y1="5" x2="357" y2="5" stroke="#d0d0d0" stroke-width="2" />
<line x1="356.5" y1="5" x2="356.5" y2="119.9" stroke="#5a5a5a" stroke-width="1" />
<line x1="214" y1="119.4" x2="357" y2="119.4" stroke="#3a3a3a" stroke-width="1" />
<line x1="216" y1="5" x2="218.2" y2="5" stroke="#555" stroke-width="0.8" />
<line x1="216" y1="19.25" x2="217.6" y2="19.25" stroke="#555" stroke-width="0.8" />
<line x1="216" y1="33.5" x2="218.2" y2="33.5" stroke="#555" stroke-width="0.8" />
<line x1="216" y1="47.75" x2="217.6" y2="47.75" stroke="#555" stroke-width="0.8" />
<line x1="216" y1="62" x2="218.2" y2="62" stroke="#555" stroke-width="0.8" />
<line x1="216" y1="76.25" x2="217.6" y2="76.25" stroke="#555" stroke-width="0.8" />
<line x1="216" y1="90.5" x2="218.2" y2="90.5" stroke="#555" stroke-width="0.8" />
<line x1="216" y1="104.75" x2="217.6" y2="104.75" stroke="#555" stroke-width="0.8" />
<line x1="216" y1="119" x2="218.2" y2="119" stroke="#555" stroke-width="0.8" />
<line x1="214.8" y1="119.4" x2="214.8" y2="117.2" stroke="#555" stroke-width="0.8" />
<line x1="226.61" y1="119.4" x2="226.61" y2="117.8" stroke="#555" stroke-width="0.8" />
<line x1="238.42" y1="119.4" x2="238.42" y2="117.2" stroke="#555" stroke-width="0.8" />
<line x1="250.23" y1="119.4" x2="250.23" y2="117.8" stroke="#555" stroke-width="0.8" />
<line x1="262.04" y1="119.4" x2="262.04" y2="117.2" stroke="#555" stroke-width="0.8" />
<line x1="273.85" y1="119.4" x2="273.85" y2="117.8" stroke="#555" stroke-width="0.8" />
<line x1="285.66" y1="119.4" x2="285.66" y2="117.2" stroke="#555" stroke-width="0.8" />
<line x1="297.47" y1="119.4" x2="297.47" y2="117.8" stroke="#555" stroke-width="0.8" />
<line x1="309.28" y1="119.4" x2="309.28" y2="117.2" stroke="#555" stroke-width="0.8" />
<line x1="321.09" y1="119.4" x2="321.09" y2="117.8" stroke="#555" stroke-width="0.8" />
<line x1="332.9" y1="119.4" x2="332.9" y2="117.2" stroke="#555" stroke-width="0.8" />
<line x1="344.71" y1="119.4" x2="344.71" y2="117.8" stroke="#555" stroke-width="0.8" />
<line x1="356.52" y1="119.4" x2="356.52" y2="117.2" stroke="#555" stroke-width="0.8" />
<text x="212.7" y="6.78" font-size="5.4" text-anchor="end" font-family='"Liberation Serif", serif' fill="#000" >250</text>
<text x="212.7" y="35.28" font-size="5.4" text-anchor="end" font-family='"Liberation Serif", serif' fill="#000" >0</text>
<text x="212.7" y="63.78" font-size="5.4" text-anchor="end" font-family='"Liberation Serif", serif' fill="#000" >-250</text>
<text x="212.7" y="92.28" font-size="5.4" text-anchor="end" font-family='"Liberation Serif", serif' fill="#000" >-500</text>
<text x="212.7" y="120.78" font-size="5.4" text-anchor="end" font-family='"Liberation Serif", serif' fill="#000" >-750</text>
<text x="214.8" y="125.95" font-size="5.6" text-anchor="middle" font-family='"Liberation Serif", serif' fill="#000" >4</text>
<text x="238.42" y="125.95" font-size="5.6" text-anchor="middle" font-family='"Liberation Serif", serif' fill="#000" >5</text>
<text x="262.04" y="125.95" font-size="5.6" text-anchor="middle" font-family='"Liberation Serif", serif' fill="#000" >6</text>
<text x="285.66" y="125.95" font-size="5.6" text-anchor="middle" font-family='"Liberation Serif", serif' fill="#000" >7</text>
<text x="309.28" y="125.95" font-size="5.6" text-anchor="middle" font-family='"Liberation Serif", serif' fill="#000" >8</text>
<text x="332.9" y="125.95" font-size="5.6" text-anchor="middle" font-family='"Liberation Serif", serif' fill="#000" >9</text>
<text x="356.52" y="125.95" font-size="5.6" text-anchor="middle" font-family='"Liberation Serif", serif' fill="#000" >10</text>
<text transform="translate(285.8,135.08) scale(0.9,1)" font-size="7.2" text-anchor="middle" font-family='"Liberation Serif", serif'>Frequency (THz)</text>
<text transform="translate(192.6,58.4) rotate(-90)" font-size="6.8" text-anchor="middle" font-family='"Liberation Serif", serif'>Imag <tspan font-style="italic">Z</tspan><tspan font-size="4.7" dy="1.8">in</tspan><tspan dy="-1.8"> (Ohm)</tspan></text>
<text x="255.8" y="99.24" font-size="8" text-anchor="middle" font-family='"Liberation Serif", serif' fill="#000" >(b)</text>
<rect x="306.3" y="69.6" width="34" height="36.6" fill="#fff" stroke="#666" stroke-width="0.8"/>
<line x1="308.5" y1="73.7" x2="322.6" y2="73.7" stroke="#ff3030" stroke-width="0.8" stroke-dasharray="2 0.8 0.6 0.8"/>
<text transform="translate(323.8,75.78) scale(0.93,1)" font-size="6.3" font-family='"Liberation Serif", serif' fill="#111">0 ev</text>
<line x1="308.5" y1="81" x2="322.6" y2="81" stroke="#7070ff" stroke-width="1.1" stroke-dasharray="0.9 0.9"/>
<text transform="translate(323.8,83.08) scale(0.93,1)" font-size="6.3" font-family='"Liberation Serif", serif' fill="#111">0.1 ev</text>
<line x1="308.5" y1="88.3" x2="322.6" y2="88.3" stroke="#800080" stroke-width="1.0" />
<text transform="translate(323.8,90.38) scale(0.93,1)" font-size="6.3" font-family='"Liberation Serif", serif' fill="#111">0.2 ev</text>
<line x1="308.5" y1="95.6" x2="322.6" y2="95.6" stroke="#ff00ff" stroke-width="0.9" stroke-dasharray="1.2 0.9"/>
<text transform="translate(323.8,97.68) scale(0.93,1)" font-size="6.3" font-family='"Liberation Serif", serif' fill="#111">0.3 ev</text>
<line x1="308.5" y1="102.9" x2="322.6" y2="102.9" stroke="#777" stroke-width="1.8" />
<text transform="translate(323.8,104.98) scale(0.93,1)" font-size="6.3" font-family='"Liberation Serif", serif' fill="#111">0.4 ev</text>
<line x1="24" y1="150" x2="24" y2="261" stroke="#b0b0b0" stroke-width="2" />
<line x1="23" y1="150.3" x2="161.3" y2="150.3" stroke="#a0a0a0" stroke-width="1.3" />
<line x1="23" y1="260.4" x2="161.3" y2="260.4" stroke="#8a8a8a" stroke-width="1" />
<line x1="161.3" y1="150" x2="161.3" y2="260.9" stroke="#ff0000" stroke-width="1" />
<line x1="25" y1="249.6" x2="27.2" y2="249.6" stroke="#555" stroke-width="0.8" />
<line x1="25" y1="238.53" x2="26.6" y2="238.53" stroke="#555" stroke-width="0.8" />
<line x1="25" y1="227.45" x2="27.2" y2="227.45" stroke="#555" stroke-width="0.8" />
<line x1="25" y1="216.38" x2="26.6" y2="216.38" stroke="#555" stroke-width="0.8" />
<line x1="25" y1="205.3" x2="27.2" y2="205.3" stroke="#555" stroke-width="0.8" />
<line x1="25" y1="194.22" x2="26.6" y2="194.22" stroke="#555" stroke-width="0.8" />
<line x1="25" y1="183.15" x2="27.2" y2="183.15" stroke="#555" stroke-width="0.8" />
<line x1="25" y1="172.07" x2="26.6" y2="172.07" stroke="#555" stroke-width="0.8" />
<line x1="25" y1="161" x2="27.2" y2="161" stroke="#555" stroke-width="0.8" />
<line x1="23.8" y1="260.4" x2="23.8" y2="258.2" stroke="#555" stroke-width="0.8" />
<line x1="40.98" y1="260.4" x2="40.98" y2="258.8" stroke="#555" stroke-width="0.8" />
<line x1="58.15" y1="260.4" x2="58.15" y2="258.2" stroke="#555" stroke-width="0.8" />
<line x1="75.33" y1="260.4" x2="75.33" y2="258.8" stroke="#555" stroke-width="0.8" />
<line x1="92.5" y1="260.4" x2="92.5" y2="258.2" stroke="#555" stroke-width="0.8" />
<line x1="109.67" y1="260.4" x2="109.67" y2="258.8" stroke="#555" stroke-width="0.8" />
<line x1="126.85" y1="260.4" x2="126.85" y2="258.2" stroke="#555" stroke-width="0.8" />
<line x1="144.03" y1="260.4" x2="144.03" y2="258.8" stroke="#555" stroke-width="0.8" />
<line x1="161.2" y1="260.4" x2="161.2" y2="258.2" stroke="#555" stroke-width="0.8" />
<line x1="161.3" y1="149.7" x2="159.1" y2="149.7" stroke="#ff0000" stroke-width="0.8" />
<line x1="161.3" y1="165.65" x2="159.7" y2="165.65" stroke="#ff0000" stroke-width="0.8" />
<line x1="161.3" y1="181.6" x2="159.1" y2="181.6" stroke="#ff0000" stroke-width="0.8" />
<line x1="161.3" y1="197.55" x2="159.7" y2="197.55" stroke="#ff0000" stroke-width="0.8" />
<line x1="161.3" y1="213.5" x2="159.1" y2="213.5" stroke="#ff0000" stroke-width="0.8" />
<line x1="161.3" y1="229.45" x2="159.7" y2="229.45" stroke="#ff0000" stroke-width="0.8" />
<line x1="161.3" y1="245.4" x2="159.1" y2="245.4" stroke="#ff0000" stroke-width="0.8" />
<text x="21.5" y="251.58" font-size="6.0" text-anchor="end" font-family='"Liberation Serif", serif' fill="#000" >7.0</text>
<text x="21.5" y="229.43" font-size="6.0" text-anchor="end" font-family='"Liberation Serif", serif' fill="#000" >7.2</text>
<text x="21.5" y="207.28" font-size="6.0" text-anchor="end" font-family='"Liberation Serif", serif' fill="#000" >7.4</text>
<text x="21.5" y="185.13" font-size="6.0" text-anchor="end" font-family='"Liberation Serif", serif' fill="#000" >7.6</text>
<text x="21.5" y="162.98" font-size="6.0" text-anchor="end" font-family='"Liberation Serif", serif' fill="#000" >7.8</text>
<text x="163.6" y="247.31" font-size="5.8" text-anchor="start" font-family='"Liberation Serif", serif' fill="#ff1010" style="stroke:none" >200</text>
<text x="163.6" y="215.41" font-size="5.8" text-anchor="start" font-family='"Liberation Serif", serif' fill="#ff1010" style="stroke:none" >400</text>
<text x="163.6" y="183.51" font-size="5.8" text-anchor="start" font-family='"Liberation Serif", serif' fill="#ff1010" style="stroke:none" >600</text>
<text x="163.6" y="151.61" font-size="5.8" text-anchor="start" font-family='"Liberation Serif", serif' fill="#ff1010" style="stroke:none" >800</text>
<text x="23.8" y="267.98" font-size="6.0" text-anchor="middle" font-family='"Liberation Serif", serif' fill="#000" >0.0</text>
<text x="58.15" y="267.98" font-size="6.0" text-anchor="middle" font-family='"Liberation Serif", serif' fill="#000" >0.1</text>
<text x="92.5" y="267.98" font-size="6.0" text-anchor="middle" font-family='"Liberation Serif", serif' fill="#000" >0.2</text>
<text x="126.85" y="267.98" font-size="6.0" text-anchor="middle" font-family='"Liberation Serif", serif' fill="#000" >0.3</text>
<text x="161.2" y="267.98" font-size="6.0" text-anchor="middle" font-family='"Liberation Serif", serif' fill="#000" >0.4</text>
<text x="92.7" y="278.49" font-size="7.25" text-anchor="middle" font-family='"Liberation Serif", serif' fill="#000" >Chemical potential (ev)</text>
<text transform="translate(8.1,209.3) rotate(-90)" font-size="6.95" text-anchor="middle" font-family='"Liberation Serif", serif'>Resonant frequency (THz)</text>
<text transform="translate(180.6,205) rotate(-90)" font-size="7.4" text-anchor="middle" font-family='"Liberation Serif", serif'>Real <tspan font-style="italic">Z</tspan><tspan font-size="4.5" dy="1.6">in</tspan><tspan dy="-1.6"> (Ohm)</tspan></text>
<text x="99.5" y="251.4" font-size="9.4" text-anchor="middle" font-family='"Liberation Serif", serif' fill="#000" >(c)</text>
<polyline points="23.8,245.17 58.15,208.07 92.5,166.32 126.85,165.43 161.2,164.1" fill="none" stroke="#111" stroke-width="1" stroke-dasharray="4 0.8 0.8 0.8"/>
<polyline points="23.8,163.1 58.15,166.93 92.5,224.66 126.85,245.88 161.2,242.69" fill="none" stroke="#ff0000" stroke-width="1" stroke-dasharray="2.6 1.6"/>
<circle cx="23.8" cy="245.17" r="1.1" fill="#fff" stroke="#111" stroke-width="0.8"/>
<circle cx="58.15" cy="208.07" r="1.1" fill="#fff" stroke="#111" stroke-width="0.8"/>
<circle cx="92.5" cy="166.32" r="1.1" fill="#fff" stroke="#111" stroke-width="0.8"/>
<circle cx="126.85" cy="165.43" r="1.1" fill="#fff" stroke="#111" stroke-width="0.8"/>
<circle cx="161.2" cy="164.1" r="1.1" fill="#fff" stroke="#111" stroke-width="0.8"/>
<rect x="22.4" y="161.7" width="2.8" height="2.8" fill="#ff0000"/>
<rect x="56.75" y="165.53" width="2.8" height="2.8" fill="#ff0000"/>
<rect x="91.1" y="223.26" width="2.8" height="2.8" fill="#ff0000"/>
<rect x="125.45" y="244.48" width="2.8" height="2.8" fill="#ff0000"/>
<rect x="159.8" y="241.29" width="2.8" height="2.8" fill="#ff0000"/>
<ellipse cx="62.7" cy="201.8" rx="9.8" ry="4.8" fill="none" stroke="#333" stroke-width="0.7"/>
<line x1="52.9" y1="201.6" x2="43" y2="201.6" stroke="#222" stroke-width="0.7" />
<path d="M41 201.6L44.2 200.3L44.2 202.9Z" fill="#222"/>
<ellipse cx="100.2" cy="228.9" rx="4.8" ry="7.6" fill="none" stroke="#ff0000" stroke-width="0.7"/>
<line x1="105" y1="228.8" x2="117.5" y2="228.8" stroke="#ff0000" stroke-width="0.9" />
<path d="M120 228.8L116.6 227.4L116.6 230.2Z" fill="#ff0000"/>
<rect x="96.8" y="189.2" width="57.2" height="17.2" fill="#000"/>
<rect x="95.5" y="187.9" width="57.3" height="16.9" fill="#fff" stroke="#555" stroke-width="0.7"/>
<line x1="99" y1="192.3" x2="111.5" y2="192.3" stroke="#333" stroke-width="0.7" stroke-dasharray="2 1 0.6 1"/>
<path d="M105.2 190.7L106.5 192.3L105.2 193.9L103.9 192.3Z" fill="#444" stroke="#111" stroke-width="0.6"/>
<line x1="99" y1="199.3" x2="111.5" y2="199.3" stroke="#ff0000" stroke-width="0.9" stroke-dasharray="2.4 1.4"/>
<rect x="103.9" y="198" width="2.6" height="2.6" fill="#ff0000"/>
<text x="114.2" y="194.11" font-size="6.1" text-anchor="start" font-family='"Liberation Serif", serif' fill="#000" >Frequency</text>
<text x="114.2" y="201.31" font-size="6.1" font-family='"Liberation Serif", serif'>Real <tspan font-style="italic">Z</tspan><tspan font-size="3.8" dy="1.6">in</tspan></text>
</svg>
</body></html>
